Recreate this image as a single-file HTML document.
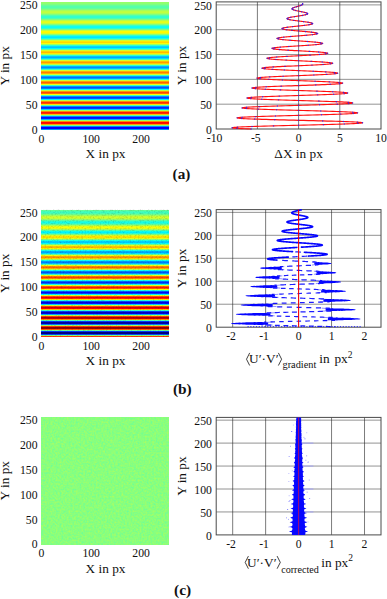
<!DOCTYPE html>
<html><head><meta charset="utf-8"><title>figure</title>
<style>
html,body{margin:0;padding:0;background:#fff;}
svg{display:block;font-family:"Liberation Serif",serif;fill:#111;}
svg text{fill:#111;}
</style></head><body>
<svg width="387" height="599" viewBox="0 0 387 599">
<defs>
<filter id="nzc" x="0" y="0" width="100%" height="100%" color-interpolation-filters="sRGB">
<feTurbulence type="fractalNoise" baseFrequency="0.55" numOctaves="2" seed="3" result="t"/>
<feColorMatrix in="t" type="matrix" values="0.32 0 0 0 0.38  0 0 0 0 1  -0.28 0 0 0 0.63  0 0 0 0 1"/>
</filter>
<filter id="nzb" x="0" y="0" width="100%" height="100%" color-interpolation-filters="sRGB">
<feTurbulence type="fractalNoise" baseFrequency="0.6" numOctaves="2" seed="11" result="t"/>
<feColorMatrix in="t" type="matrix" values="0 0 0 0 0  0 0 0 0 0  0 0 0 0 0  0.36 0 0 0 -0.165"/>
</filter>
</defs>
<rect width="387" height="599" fill="#fff"/>
<g shape-rendering="crispEdges">
<rect x="41.2" y="2.00" width="127.6" height="0.80" fill="rgb(149,255,106)"/>
<rect x="41.2" y="2.50" width="127.6" height="0.80" fill="rgb(149,255,106)"/>
<rect x="41.2" y="3.00" width="127.6" height="0.80" fill="rgb(147,255,108)"/>
<rect x="41.2" y="3.49" width="127.6" height="0.80" fill="rgb(142,255,113)"/>
<rect x="41.2" y="3.99" width="127.6" height="0.80" fill="rgb(135,255,120)"/>
<rect x="41.2" y="4.49" width="127.6" height="0.80" fill="rgb(125,255,130)"/>
<rect x="41.2" y="4.99" width="127.6" height="0.80" fill="rgb(114,255,141)"/>
<rect x="41.2" y="5.49" width="127.6" height="0.80" fill="rgb(103,255,152)"/>
<rect x="41.2" y="5.98" width="127.6" height="0.80" fill="rgb(93,255,162)"/>
<rect x="41.2" y="6.48" width="127.6" height="0.80" fill="rgb(86,255,169)"/>
<rect x="41.2" y="6.98" width="127.6" height="0.80" fill="rgb(83,255,172)"/>
<rect x="41.2" y="7.48" width="127.6" height="0.80" fill="rgb(84,255,171)"/>
<rect x="41.2" y="7.98" width="127.6" height="0.80" fill="rgb(90,255,165)"/>
<rect x="41.2" y="8.47" width="127.6" height="0.80" fill="rgb(100,255,155)"/>
<rect x="41.2" y="8.97" width="127.6" height="0.80" fill="rgb(114,255,141)"/>
<rect x="41.2" y="9.47" width="127.6" height="0.80" fill="rgb(130,255,125)"/>
<rect x="41.2" y="9.97" width="127.6" height="0.80" fill="rgb(148,255,107)"/>
<rect x="41.2" y="10.47" width="127.6" height="0.80" fill="rgb(165,255,90)"/>
<rect x="41.2" y="10.96" width="127.6" height="0.80" fill="rgb(179,255,76)"/>
<rect x="41.2" y="11.46" width="127.6" height="0.80" fill="rgb(188,255,67)"/>
<rect x="41.2" y="11.96" width="127.6" height="0.80" fill="rgb(193,255,62)"/>
<rect x="41.2" y="12.46" width="127.6" height="0.80" fill="rgb(191,255,64)"/>
<rect x="41.2" y="12.96" width="127.6" height="0.80" fill="rgb(182,255,73)"/>
<rect x="41.2" y="13.46" width="127.6" height="0.80" fill="rgb(168,255,87)"/>
<rect x="41.2" y="13.95" width="127.6" height="0.80" fill="rgb(148,255,107)"/>
<rect x="41.2" y="14.45" width="127.6" height="0.80" fill="rgb(126,255,129)"/>
<rect x="41.2" y="14.95" width="127.6" height="0.80" fill="rgb(102,255,153)"/>
<rect x="41.2" y="15.45" width="127.6" height="0.80" fill="rgb(80,255,175)"/>
<rect x="41.2" y="15.95" width="127.6" height="0.80" fill="rgb(62,255,193)"/>
<rect x="41.2" y="16.44" width="127.6" height="0.80" fill="rgb(49,255,206)"/>
<rect x="41.2" y="16.94" width="127.6" height="0.80" fill="rgb(43,255,212)"/>
<rect x="41.2" y="17.44" width="127.6" height="0.80" fill="rgb(46,255,209)"/>
<rect x="41.2" y="17.94" width="127.6" height="0.80" fill="rgb(57,255,198)"/>
<rect x="41.2" y="18.44" width="127.6" height="0.80" fill="rgb(75,255,180)"/>
<rect x="41.2" y="18.93" width="127.6" height="0.80" fill="rgb(99,255,156)"/>
<rect x="41.2" y="19.43" width="127.6" height="0.80" fill="rgb(127,255,128)"/>
<rect x="41.2" y="19.93" width="127.6" height="0.80" fill="rgb(156,255,99)"/>
<rect x="41.2" y="20.43" width="127.6" height="0.80" fill="rgb(184,255,71)"/>
<rect x="41.2" y="20.93" width="127.6" height="0.80" fill="rgb(207,255,48)"/>
<rect x="41.2" y="21.42" width="127.6" height="0.80" fill="rgb(223,255,32)"/>
<rect x="41.2" y="21.92" width="127.6" height="0.80" fill="rgb(230,255,25)"/>
<rect x="41.2" y="22.42" width="127.6" height="0.80" fill="rgb(227,255,28)"/>
<rect x="41.2" y="22.92" width="127.6" height="0.80" fill="rgb(215,255,40)"/>
<rect x="41.2" y="23.42" width="127.6" height="0.80" fill="rgb(193,255,62)"/>
<rect x="41.2" y="23.91" width="127.6" height="0.80" fill="rgb(164,255,91)"/>
<rect x="41.2" y="24.41" width="127.6" height="0.80" fill="rgb(131,255,124)"/>
<rect x="41.2" y="24.91" width="127.6" height="0.80" fill="rgb(96,255,159)"/>
<rect x="41.2" y="25.41" width="127.6" height="0.80" fill="rgb(64,255,191)"/>
<rect x="41.2" y="25.91" width="127.6" height="0.80" fill="rgb(36,255,219)"/>
<rect x="41.2" y="26.40" width="127.6" height="0.80" fill="rgb(17,255,238)"/>
<rect x="41.2" y="26.90" width="127.6" height="0.80" fill="rgb(8,255,247)"/>
<rect x="41.2" y="27.40" width="127.6" height="0.80" fill="rgb(10,255,245)"/>
<rect x="41.2" y="27.90" width="127.6" height="0.80" fill="rgb(24,255,231)"/>
<rect x="41.2" y="28.40" width="127.6" height="0.80" fill="rgb(49,255,206)"/>
<rect x="41.2" y="28.89" width="127.6" height="0.80" fill="rgb(82,255,173)"/>
<rect x="41.2" y="29.39" width="127.6" height="0.80" fill="rgb(120,255,135)"/>
<rect x="41.2" y="29.89" width="127.6" height="0.80" fill="rgb(160,255,95)"/>
<rect x="41.2" y="30.39" width="127.6" height="0.80" fill="rgb(198,255,57)"/>
<rect x="41.2" y="30.89" width="127.6" height="0.80" fill="rgb(229,255,26)"/>
<rect x="41.2" y="31.38" width="127.6" height="0.80" fill="rgb(252,255,3)"/>
<rect x="41.2" y="31.88" width="127.6" height="0.80" fill="rgb(255,247,0)"/>
<rect x="41.2" y="32.38" width="127.6" height="0.80" fill="rgb(255,249,0)"/>
<rect x="41.2" y="32.88" width="127.6" height="0.80" fill="rgb(247,255,8)"/>
<rect x="41.2" y="33.38" width="127.6" height="0.80" fill="rgb(220,255,35)"/>
<rect x="41.2" y="33.88" width="127.6" height="0.80" fill="rgb(183,255,72)"/>
<rect x="41.2" y="34.37" width="127.6" height="0.80" fill="rgb(140,255,115)"/>
<rect x="41.2" y="34.87" width="127.6" height="0.80" fill="rgb(95,255,160)"/>
<rect x="41.2" y="35.37" width="127.6" height="0.80" fill="rgb(52,255,203)"/>
<rect x="41.2" y="35.87" width="127.6" height="0.80" fill="rgb(16,255,239)"/>
<rect x="41.2" y="36.37" width="127.6" height="0.80" fill="rgb(0,244,255)"/>
<rect x="41.2" y="36.86" width="127.6" height="0.80" fill="rgb(0,231,255)"/>
<rect x="41.2" y="37.36" width="127.6" height="0.80" fill="rgb(0,232,255)"/>
<rect x="41.2" y="37.86" width="127.6" height="0.80" fill="rgb(0,248,255)"/>
<rect x="41.2" y="38.36" width="127.6" height="0.80" fill="rgb(22,255,233)"/>
<rect x="41.2" y="38.86" width="127.6" height="0.80" fill="rgb(62,255,193)"/>
<rect x="41.2" y="39.35" width="127.6" height="0.80" fill="rgb(109,255,146)"/>
<rect x="41.2" y="39.85" width="127.6" height="0.80" fill="rgb(159,255,96)"/>
<rect x="41.2" y="40.35" width="127.6" height="0.80" fill="rgb(207,255,48)"/>
<rect x="41.2" y="40.85" width="127.6" height="0.80" fill="rgb(248,255,7)"/>
<rect x="41.2" y="41.35" width="127.6" height="0.80" fill="rgb(255,232,0)"/>
<rect x="41.2" y="41.84" width="127.6" height="0.80" fill="rgb(255,216,0)"/>
<rect x="41.2" y="42.34" width="127.6" height="0.80" fill="rgb(255,216,0)"/>
<rect x="41.2" y="42.84" width="127.6" height="0.80" fill="rgb(255,232,0)"/>
<rect x="41.2" y="43.34" width="127.6" height="0.80" fill="rgb(247,255,8)"/>
<rect x="41.2" y="43.84" width="127.6" height="0.80" fill="rgb(204,255,51)"/>
<rect x="41.2" y="44.33" width="127.6" height="0.80" fill="rgb(153,255,102)"/>
<rect x="41.2" y="44.83" width="127.6" height="0.80" fill="rgb(98,255,157)"/>
<rect x="41.2" y="45.33" width="127.6" height="0.80" fill="rgb(45,255,210)"/>
<rect x="41.2" y="45.83" width="127.6" height="0.80" fill="rgb(0,254,255)"/>
<rect x="41.2" y="46.33" width="127.6" height="0.80" fill="rgb(0,220,255)"/>
<rect x="41.2" y="46.82" width="127.6" height="0.80" fill="rgb(0,201,255)"/>
<rect x="41.2" y="47.32" width="127.6" height="0.80" fill="rgb(0,200,255)"/>
<rect x="41.2" y="47.82" width="127.6" height="0.80" fill="rgb(0,216,255)"/>
<rect x="41.2" y="48.32" width="127.6" height="0.80" fill="rgb(0,248,255)"/>
<rect x="41.2" y="48.82" width="127.6" height="0.80" fill="rgb(40,255,215)"/>
<rect x="41.2" y="49.31" width="127.6" height="0.80" fill="rgb(95,255,160)"/>
<rect x="41.2" y="49.81" width="127.6" height="0.80" fill="rgb(154,255,101)"/>
<rect x="41.2" y="50.31" width="127.6" height="0.80" fill="rgb(212,255,43)"/>
<rect x="41.2" y="50.81" width="127.6" height="0.80" fill="rgb(255,247,0)"/>
<rect x="41.2" y="51.31" width="127.6" height="0.80" fill="rgb(255,209,0)"/>
<rect x="41.2" y="51.80" width="127.6" height="0.80" fill="rgb(255,187,0)"/>
<rect x="41.2" y="52.30" width="127.6" height="0.80" fill="rgb(255,184,0)"/>
<rect x="41.2" y="52.80" width="127.6" height="0.80" fill="rgb(255,200,0)"/>
<rect x="41.2" y="53.30" width="127.6" height="0.80" fill="rgb(255,234,0)"/>
<rect x="41.2" y="53.80" width="127.6" height="0.80" fill="rgb(227,255,28)"/>
<rect x="41.2" y="54.29" width="127.6" height="0.80" fill="rgb(168,255,87)"/>
<rect x="41.2" y="54.79" width="127.6" height="0.80" fill="rgb(104,255,151)"/>
<rect x="41.2" y="55.29" width="127.6" height="0.80" fill="rgb(42,255,213)"/>
<rect x="41.2" y="55.79" width="127.6" height="0.80" fill="rgb(0,241,255)"/>
<rect x="41.2" y="56.29" width="127.6" height="0.80" fill="rgb(0,199,255)"/>
<rect x="41.2" y="56.79" width="127.6" height="0.80" fill="rgb(0,174,255)"/>
<rect x="41.2" y="57.28" width="127.6" height="0.80" fill="rgb(0,169,255)"/>
<rect x="41.2" y="57.78" width="127.6" height="0.80" fill="rgb(0,184,255)"/>
<rect x="41.2" y="58.28" width="127.6" height="0.80" fill="rgb(0,219,255)"/>
<rect x="41.2" y="58.78" width="127.6" height="0.80" fill="rgb(15,255,240)"/>
<rect x="41.2" y="59.28" width="127.6" height="0.80" fill="rgb(78,255,177)"/>
<rect x="41.2" y="59.77" width="127.6" height="0.80" fill="rgb(146,255,109)"/>
<rect x="41.2" y="60.27" width="127.6" height="0.80" fill="rgb(214,255,41)"/>
<rect x="41.2" y="60.77" width="127.6" height="0.80" fill="rgb(255,236,0)"/>
<rect x="41.2" y="61.27" width="127.6" height="0.80" fill="rgb(255,190,0)"/>
<rect x="41.2" y="61.77" width="127.6" height="0.80" fill="rgb(255,161,0)"/>
<rect x="41.2" y="62.26" width="127.6" height="0.80" fill="rgb(255,154,0)"/>
<rect x="41.2" y="62.76" width="127.6" height="0.80" fill="rgb(255,168,0)"/>
<rect x="41.2" y="63.26" width="127.6" height="0.80" fill="rgb(255,204,0)"/>
<rect x="41.2" y="63.76" width="127.6" height="0.80" fill="rgb(253,255,2)"/>
<rect x="41.2" y="64.26" width="127.6" height="0.80" fill="rgb(187,255,68)"/>
<rect x="41.2" y="64.75" width="127.6" height="0.80" fill="rgb(114,255,141)"/>
<rect x="41.2" y="65.25" width="127.6" height="0.80" fill="rgb(42,255,213)"/>
<rect x="41.2" y="65.75" width="127.6" height="0.80" fill="rgb(0,232,255)"/>
<rect x="41.2" y="66.25" width="127.6" height="0.80" fill="rgb(0,181,255)"/>
<rect x="41.2" y="66.75" width="127.6" height="0.80" fill="rgb(0,149,255)"/>
<rect x="41.2" y="67.24" width="127.6" height="0.80" fill="rgb(0,139,255)"/>
<rect x="41.2" y="67.74" width="127.6" height="0.80" fill="rgb(0,153,255)"/>
<rect x="41.2" y="68.24" width="127.6" height="0.80" fill="rgb(0,189,255)"/>
<rect x="41.2" y="68.74" width="127.6" height="0.80" fill="rgb(0,244,255)"/>
<rect x="41.2" y="69.24" width="127.6" height="0.80" fill="rgb(58,255,197)"/>
<rect x="41.2" y="69.73" width="127.6" height="0.80" fill="rgb(135,255,120)"/>
<rect x="41.2" y="70.23" width="127.6" height="0.80" fill="rgb(212,255,43)"/>
<rect x="41.2" y="70.73" width="127.6" height="0.80" fill="rgb(255,229,0)"/>
<rect x="41.2" y="71.23" width="127.6" height="0.80" fill="rgb(255,173,0)"/>
<rect x="41.2" y="71.73" width="127.6" height="0.80" fill="rgb(255,137,0)"/>
<rect x="41.2" y="72.22" width="127.6" height="0.80" fill="rgb(255,125,0)"/>
<rect x="41.2" y="72.72" width="127.6" height="0.80" fill="rgb(255,137,0)"/>
<rect x="41.2" y="73.22" width="127.6" height="0.80" fill="rgb(255,173,0)"/>
<rect x="41.2" y="73.72" width="127.6" height="0.80" fill="rgb(255,230,0)"/>
<rect x="41.2" y="74.22" width="127.6" height="0.80" fill="rgb(208,255,47)"/>
<rect x="41.2" y="74.71" width="127.6" height="0.80" fill="rgb(127,255,128)"/>
<rect x="41.2" y="75.21" width="127.6" height="0.80" fill="rgb(46,255,209)"/>
<rect x="41.2" y="75.71" width="127.6" height="0.80" fill="rgb(0,226,255)"/>
<rect x="41.2" y="76.21" width="127.6" height="0.80" fill="rgb(0,166,255)"/>
<rect x="41.2" y="76.71" width="127.6" height="0.80" fill="rgb(0,126,255)"/>
<rect x="41.2" y="77.21" width="127.6" height="0.80" fill="rgb(0,111,255)"/>
<rect x="41.2" y="77.70" width="127.6" height="0.80" fill="rgb(0,122,255)"/>
<rect x="41.2" y="78.20" width="127.6" height="0.80" fill="rgb(0,158,255)"/>
<rect x="41.2" y="78.70" width="127.6" height="0.80" fill="rgb(0,216,255)"/>
<rect x="41.2" y="79.20" width="127.6" height="0.80" fill="rgb(36,255,219)"/>
<rect x="41.2" y="79.70" width="127.6" height="0.80" fill="rgb(120,255,135)"/>
<rect x="41.2" y="80.19" width="127.6" height="0.80" fill="rgb(206,255,49)"/>
<rect x="41.2" y="80.69" width="127.6" height="0.80" fill="rgb(255,225,0)"/>
<rect x="41.2" y="81.19" width="127.6" height="0.80" fill="rgb(255,160,0)"/>
<rect x="41.2" y="81.69" width="127.6" height="0.80" fill="rgb(255,116,0)"/>
<rect x="41.2" y="82.19" width="127.6" height="0.80" fill="rgb(255,97,0)"/>
<rect x="41.2" y="82.68" width="127.6" height="0.80" fill="rgb(255,106,0)"/>
<rect x="41.2" y="83.18" width="127.6" height="0.80" fill="rgb(255,142,0)"/>
<rect x="41.2" y="83.68" width="127.6" height="0.80" fill="rgb(255,201,0)"/>
<rect x="41.2" y="84.18" width="127.6" height="0.80" fill="rgb(232,255,23)"/>
<rect x="41.2" y="84.68" width="127.6" height="0.80" fill="rgb(144,255,111)"/>
<rect x="41.2" y="85.17" width="127.6" height="0.80" fill="rgb(53,255,202)"/>
<rect x="41.2" y="85.67" width="127.6" height="0.80" fill="rgb(0,224,255)"/>
<rect x="41.2" y="86.17" width="127.6" height="0.80" fill="rgb(0,154,255)"/>
<rect x="41.2" y="86.67" width="127.6" height="0.80" fill="rgb(0,106,255)"/>
<rect x="41.2" y="87.17" width="127.6" height="0.80" fill="rgb(0,84,255)"/>
<rect x="41.2" y="87.66" width="127.6" height="0.80" fill="rgb(0,91,255)"/>
<rect x="41.2" y="88.16" width="127.6" height="0.80" fill="rgb(0,126,255)"/>
<rect x="41.2" y="88.66" width="127.6" height="0.80" fill="rgb(0,186,255)"/>
<rect x="41.2" y="89.16" width="127.6" height="0.80" fill="rgb(11,255,244)"/>
<rect x="41.2" y="89.66" width="127.6" height="0.80" fill="rgb(102,255,153)"/>
<rect x="41.2" y="90.15" width="127.6" height="0.80" fill="rgb(197,255,58)"/>
<rect x="41.2" y="90.65" width="127.6" height="0.80" fill="rgb(255,224,0)"/>
<rect x="41.2" y="91.15" width="127.6" height="0.80" fill="rgb(255,150,0)"/>
<rect x="41.2" y="91.65" width="127.6" height="0.80" fill="rgb(255,97,0)"/>
<rect x="41.2" y="92.15" width="127.6" height="0.80" fill="rgb(255,72,0)"/>
<rect x="41.2" y="92.64" width="127.6" height="0.80" fill="rgb(255,76,0)"/>
<rect x="41.2" y="93.14" width="127.6" height="0.80" fill="rgb(255,110,0)"/>
<rect x="41.2" y="93.64" width="127.6" height="0.80" fill="rgb(255,171,0)"/>
<rect x="41.2" y="94.14" width="127.6" height="0.80" fill="rgb(255,252,0)"/>
<rect x="41.2" y="94.64" width="127.6" height="0.80" fill="rgb(163,255,92)"/>
<rect x="41.2" y="95.13" width="127.6" height="0.80" fill="rgb(64,255,191)"/>
<rect x="41.2" y="95.63" width="127.6" height="0.80" fill="rgb(0,225,255)"/>
<rect x="41.2" y="96.13" width="127.6" height="0.80" fill="rgb(0,146,255)"/>
<rect x="41.2" y="96.63" width="127.6" height="0.80" fill="rgb(0,89,255)"/>
<rect x="41.2" y="97.13" width="127.6" height="0.80" fill="rgb(0,60,255)"/>
<rect x="41.2" y="97.62" width="127.6" height="0.80" fill="rgb(0,61,255)"/>
<rect x="41.2" y="98.12" width="127.6" height="0.80" fill="rgb(0,94,255)"/>
<rect x="41.2" y="98.62" width="127.6" height="0.80" fill="rgb(0,155,255)"/>
<rect x="41.2" y="99.12" width="127.6" height="0.80" fill="rgb(0,239,255)"/>
<rect x="41.2" y="99.62" width="127.6" height="0.80" fill="rgb(82,255,173)"/>
<rect x="41.2" y="100.12" width="127.6" height="0.80" fill="rgb(185,255,70)"/>
<rect x="41.2" y="100.61" width="127.6" height="0.80" fill="rgb(255,227,0)"/>
<rect x="41.2" y="101.11" width="127.6" height="0.80" fill="rgb(255,142,0)"/>
<rect x="41.2" y="101.61" width="127.6" height="0.80" fill="rgb(255,81,0)"/>
<rect x="41.2" y="102.11" width="127.6" height="0.80" fill="rgb(255,48,0)"/>
<rect x="41.2" y="102.61" width="127.6" height="0.80" fill="rgb(255,47,0)"/>
<rect x="41.2" y="103.10" width="127.6" height="0.80" fill="rgb(255,78,0)"/>
<rect x="41.2" y="103.60" width="127.6" height="0.80" fill="rgb(255,139,0)"/>
<rect x="41.2" y="104.10" width="127.6" height="0.80" fill="rgb(255,224,0)"/>
<rect x="41.2" y="104.60" width="127.6" height="0.80" fill="rgb(185,255,70)"/>
<rect x="41.2" y="105.10" width="127.6" height="0.80" fill="rgb(77,255,178)"/>
<rect x="41.2" y="105.59" width="127.6" height="0.80" fill="rgb(0,229,255)"/>
<rect x="41.2" y="106.09" width="127.6" height="0.80" fill="rgb(0,140,255)"/>
<rect x="41.2" y="106.59" width="127.6" height="0.80" fill="rgb(0,74,255)"/>
<rect x="41.2" y="107.09" width="127.6" height="0.80" fill="rgb(0,37,255)"/>
<rect x="41.2" y="107.59" width="127.6" height="0.80" fill="rgb(0,33,255)"/>
<rect x="41.2" y="108.08" width="127.6" height="0.80" fill="rgb(0,62,255)"/>
<rect x="41.2" y="108.58" width="127.6" height="0.80" fill="rgb(0,123,255)"/>
<rect x="41.2" y="109.08" width="127.6" height="0.80" fill="rgb(0,210,255)"/>
<rect x="41.2" y="109.58" width="127.6" height="0.80" fill="rgb(58,255,197)"/>
<rect x="41.2" y="110.08" width="127.6" height="0.80" fill="rgb(170,255,85)"/>
<rect x="41.2" y="110.57" width="127.6" height="0.80" fill="rgb(255,233,0)"/>
<rect x="41.2" y="111.07" width="127.6" height="0.80" fill="rgb(255,138,0)"/>
<rect x="41.2" y="111.57" width="127.6" height="0.80" fill="rgb(255,67,0)"/>
<rect x="41.2" y="112.07" width="127.6" height="0.80" fill="rgb(255,26,0)"/>
<rect x="41.2" y="112.57" width="127.6" height="0.80" fill="rgb(255,19,0)"/>
<rect x="41.2" y="113.06" width="127.6" height="0.80" fill="rgb(255,47,0)"/>
<rect x="41.2" y="113.56" width="127.6" height="0.80" fill="rgb(255,107,0)"/>
<rect x="41.2" y="114.06" width="127.6" height="0.80" fill="rgb(255,195,0)"/>
<rect x="41.2" y="114.56" width="127.6" height="0.80" fill="rgb(209,255,46)"/>
<rect x="41.2" y="115.06" width="127.6" height="0.80" fill="rgb(94,255,161)"/>
<rect x="41.2" y="115.55" width="127.6" height="0.80" fill="rgb(0,237,255)"/>
<rect x="41.2" y="116.05" width="127.6" height="0.80" fill="rgb(0,138,255)"/>
<rect x="41.2" y="116.55" width="127.6" height="0.80" fill="rgb(0,61,255)"/>
<rect x="41.2" y="117.05" width="127.6" height="0.80" fill="rgb(0,16,255)"/>
<rect x="41.2" y="117.55" width="127.6" height="0.80" fill="rgb(0,5,255)"/>
<rect x="41.2" y="118.04" width="127.6" height="0.80" fill="rgb(0,31,255)"/>
<rect x="41.2" y="118.54" width="127.6" height="0.80" fill="rgb(0,91,255)"/>
<rect x="41.2" y="119.04" width="127.6" height="0.80" fill="rgb(0,179,255)"/>
<rect x="41.2" y="119.54" width="127.6" height="0.80" fill="rgb(33,255,222)"/>
<rect x="41.2" y="120.04" width="127.6" height="0.80" fill="rgb(151,255,104)"/>
<rect x="41.2" y="120.54" width="127.6" height="0.80" fill="rgb(255,242,0)"/>
<rect x="41.2" y="121.03" width="127.6" height="0.80" fill="rgb(255,138,0)"/>
<rect x="41.2" y="121.53" width="127.6" height="0.80" fill="rgb(255,56,0)"/>
<rect x="41.2" y="122.03" width="127.6" height="0.80" fill="rgb(255,6,0)"/>
<rect x="41.2" y="122.53" width="127.6" height="0.80" fill="rgb(247,0,0)"/>
<rect x="41.2" y="123.03" width="127.6" height="0.80" fill="rgb(255,15,0)"/>
<rect x="41.2" y="123.52" width="127.6" height="0.80" fill="rgb(255,74,0)"/>
<rect x="41.2" y="124.02" width="127.6" height="0.80" fill="rgb(255,163,0)"/>
<rect x="41.2" y="124.52" width="127.6" height="0.80" fill="rgb(236,255,19)"/>
<rect x="41.2" y="125.02" width="127.6" height="0.80" fill="rgb(114,255,141)"/>
<rect x="41.2" y="125.52" width="127.6" height="0.80" fill="rgb(0,248,255)"/>
<rect x="41.2" y="126.01" width="127.6" height="0.80" fill="rgb(0,138,255)"/>
<rect x="41.2" y="126.51" width="127.6" height="0.80" fill="rgb(0,52,255)"/>
<rect x="41.2" y="127.01" width="127.6" height="0.80" fill="rgb(0,0,252)"/>
<rect x="41.2" y="127.51" width="127.6" height="0.80" fill="rgb(0,0,234)"/>
<rect x="41.2" y="128.01" width="127.6" height="0.80" fill="rgb(0,0,255)"/>
<rect x="41.2" y="128.50" width="127.6" height="0.80" fill="rgb(0,57,255)"/>
<rect x="41.2" y="129.00" width="127.6" height="0.80" fill="rgb(0,147,255)"/>
</g>
<g shape-rendering="crispEdges">
<rect x="41.2" y="209.60" width="127.6" height="0.80" fill="rgb(119,255,136)"/>
<rect x="41.2" y="210.10" width="127.6" height="0.80" fill="rgb(101,255,154)"/>
<rect x="41.2" y="210.60" width="127.6" height="0.80" fill="rgb(85,255,170)"/>
<rect x="41.2" y="211.09" width="127.6" height="0.80" fill="rgb(72,255,183)"/>
<rect x="41.2" y="211.59" width="127.6" height="0.80" fill="rgb(64,255,191)"/>
<rect x="41.2" y="212.09" width="127.6" height="0.80" fill="rgb(61,255,194)"/>
<rect x="41.2" y="212.59" width="127.6" height="0.80" fill="rgb(66,255,189)"/>
<rect x="41.2" y="213.08" width="127.6" height="0.80" fill="rgb(76,255,179)"/>
<rect x="41.2" y="213.58" width="127.6" height="0.80" fill="rgb(92,255,163)"/>
<rect x="41.2" y="214.08" width="127.6" height="0.80" fill="rgb(113,255,142)"/>
<rect x="41.2" y="214.58" width="127.6" height="0.80" fill="rgb(136,255,119)"/>
<rect x="41.2" y="215.07" width="127.6" height="0.80" fill="rgb(160,255,95)"/>
<rect x="41.2" y="215.57" width="127.6" height="0.80" fill="rgb(182,255,73)"/>
<rect x="41.2" y="216.07" width="127.6" height="0.80" fill="rgb(199,255,56)"/>
<rect x="41.2" y="216.57" width="127.6" height="0.80" fill="rgb(210,255,45)"/>
<rect x="41.2" y="217.06" width="127.6" height="0.80" fill="rgb(213,255,42)"/>
<rect x="41.2" y="217.56" width="127.6" height="0.80" fill="rgb(208,255,47)"/>
<rect x="41.2" y="218.06" width="127.6" height="0.80" fill="rgb(195,255,60)"/>
<rect x="41.2" y="218.56" width="127.6" height="0.80" fill="rgb(174,255,81)"/>
<rect x="41.2" y="219.06" width="127.6" height="0.80" fill="rgb(148,255,107)"/>
<rect x="41.2" y="219.55" width="127.6" height="0.80" fill="rgb(119,255,136)"/>
<rect x="41.2" y="220.05" width="127.6" height="0.80" fill="rgb(90,255,165)"/>
<rect x="41.2" y="220.55" width="127.6" height="0.80" fill="rgb(63,255,192)"/>
<rect x="41.2" y="221.05" width="127.6" height="0.80" fill="rgb(41,255,214)"/>
<rect x="41.2" y="221.54" width="127.6" height="0.80" fill="rgb(27,255,228)"/>
<rect x="41.2" y="222.04" width="127.6" height="0.80" fill="rgb(22,255,233)"/>
<rect x="41.2" y="222.54" width="127.6" height="0.80" fill="rgb(28,255,227)"/>
<rect x="41.2" y="223.04" width="127.6" height="0.80" fill="rgb(44,255,211)"/>
<rect x="41.2" y="223.53" width="127.6" height="0.80" fill="rgb(68,255,187)"/>
<rect x="41.2" y="224.03" width="127.6" height="0.80" fill="rgb(99,255,156)"/>
<rect x="41.2" y="224.53" width="127.6" height="0.80" fill="rgb(134,255,121)"/>
<rect x="41.2" y="225.03" width="127.6" height="0.80" fill="rgb(170,255,85)"/>
<rect x="41.2" y="225.53" width="127.6" height="0.80" fill="rgb(202,255,53)"/>
<rect x="41.2" y="226.02" width="127.6" height="0.80" fill="rgb(229,255,26)"/>
<rect x="41.2" y="226.52" width="127.6" height="0.80" fill="rgb(246,255,9)"/>
<rect x="41.2" y="227.02" width="127.6" height="0.80" fill="rgb(252,255,3)"/>
<rect x="41.2" y="227.52" width="127.6" height="0.80" fill="rgb(246,255,9)"/>
<rect x="41.2" y="228.01" width="127.6" height="0.80" fill="rgb(229,255,26)"/>
<rect x="41.2" y="228.51" width="127.6" height="0.80" fill="rgb(201,255,54)"/>
<rect x="41.2" y="229.01" width="127.6" height="0.80" fill="rgb(165,255,90)"/>
<rect x="41.2" y="229.51" width="127.6" height="0.80" fill="rgb(124,255,131)"/>
<rect x="41.2" y="230.00" width="127.6" height="0.80" fill="rgb(82,255,173)"/>
<rect x="41.2" y="230.50" width="127.6" height="0.80" fill="rgb(44,255,211)"/>
<rect x="41.2" y="231.00" width="127.6" height="0.80" fill="rgb(13,255,242)"/>
<rect x="41.2" y="231.50" width="127.6" height="0.80" fill="rgb(0,247,255)"/>
<rect x="41.2" y="231.99" width="127.6" height="0.80" fill="rgb(0,239,255)"/>
<rect x="41.2" y="232.49" width="127.6" height="0.80" fill="rgb(0,244,255)"/>
<rect x="41.2" y="232.99" width="127.6" height="0.80" fill="rgb(8,255,247)"/>
<rect x="41.2" y="233.49" width="127.6" height="0.80" fill="rgb(40,255,215)"/>
<rect x="41.2" y="233.99" width="127.6" height="0.80" fill="rgb(81,255,174)"/>
<rect x="41.2" y="234.48" width="127.6" height="0.80" fill="rgb(127,255,128)"/>
<rect x="41.2" y="234.98" width="127.6" height="0.80" fill="rgb(175,255,80)"/>
<rect x="41.2" y="235.48" width="127.6" height="0.80" fill="rgb(219,255,36)"/>
<rect x="41.2" y="235.98" width="127.6" height="0.80" fill="rgb(255,255,0)"/>
<rect x="41.2" y="236.47" width="127.6" height="0.80" fill="rgb(255,230,0)"/>
<rect x="41.2" y="236.97" width="127.6" height="0.80" fill="rgb(255,219,0)"/>
<rect x="41.2" y="237.47" width="127.6" height="0.80" fill="rgb(255,224,0)"/>
<rect x="41.2" y="237.97" width="127.6" height="0.80" fill="rgb(255,245,0)"/>
<rect x="41.2" y="238.46" width="127.6" height="0.80" fill="rgb(231,255,24)"/>
<rect x="41.2" y="238.96" width="127.6" height="0.80" fill="rgb(185,255,70)"/>
<rect x="41.2" y="239.46" width="127.6" height="0.80" fill="rgb(133,255,122)"/>
<rect x="41.2" y="239.96" width="127.6" height="0.80" fill="rgb(80,255,175)"/>
<rect x="41.2" y="240.45" width="127.6" height="0.80" fill="rgb(29,255,226)"/>
<rect x="41.2" y="240.95" width="127.6" height="0.80" fill="rgb(0,243,255)"/>
<rect x="41.2" y="241.45" width="127.6" height="0.80" fill="rgb(0,213,255)"/>
<rect x="41.2" y="241.95" width="127.6" height="0.80" fill="rgb(0,200,255)"/>
<rect x="41.2" y="242.45" width="127.6" height="0.80" fill="rgb(0,204,255)"/>
<rect x="41.2" y="242.94" width="127.6" height="0.80" fill="rgb(0,226,255)"/>
<rect x="41.2" y="243.44" width="127.6" height="0.80" fill="rgb(8,255,247)"/>
<rect x="41.2" y="243.94" width="127.6" height="0.80" fill="rgb(58,255,197)"/>
<rect x="41.2" y="244.44" width="127.6" height="0.80" fill="rgb(115,255,140)"/>
<rect x="41.2" y="244.93" width="127.6" height="0.80" fill="rgb(175,255,80)"/>
<rect x="41.2" y="245.43" width="127.6" height="0.80" fill="rgb(231,255,24)"/>
<rect x="41.2" y="245.93" width="127.6" height="0.80" fill="rgb(255,231,0)"/>
<rect x="41.2" y="246.43" width="127.6" height="0.80" fill="rgb(255,198,0)"/>
<rect x="41.2" y="246.92" width="127.6" height="0.80" fill="rgb(255,181,0)"/>
<rect x="41.2" y="247.42" width="127.6" height="0.80" fill="rgb(255,184,0)"/>
<rect x="41.2" y="247.92" width="127.6" height="0.80" fill="rgb(255,206,0)"/>
<rect x="41.2" y="248.42" width="127.6" height="0.80" fill="rgb(255,246,0)"/>
<rect x="41.2" y="248.91" width="127.6" height="0.80" fill="rgb(210,255,45)"/>
<rect x="41.2" y="249.41" width="127.6" height="0.80" fill="rgb(147,255,108)"/>
<rect x="41.2" y="249.91" width="127.6" height="0.80" fill="rgb(82,255,173)"/>
<rect x="41.2" y="250.41" width="127.6" height="0.80" fill="rgb(19,255,236)"/>
<rect x="41.2" y="250.91" width="127.6" height="0.80" fill="rgb(0,221,255)"/>
<rect x="41.2" y="251.40" width="127.6" height="0.80" fill="rgb(0,182,255)"/>
<rect x="41.2" y="251.90" width="127.6" height="0.80" fill="rgb(0,163,255)"/>
<rect x="41.2" y="252.40" width="127.6" height="0.80" fill="rgb(0,164,255)"/>
<rect x="41.2" y="252.90" width="127.6" height="0.80" fill="rgb(0,186,255)"/>
<rect x="41.2" y="253.39" width="127.6" height="0.80" fill="rgb(0,228,255)"/>
<rect x="41.2" y="253.89" width="127.6" height="0.80" fill="rgb(31,255,224)"/>
<rect x="41.2" y="254.39" width="127.6" height="0.80" fill="rgb(99,255,156)"/>
<rect x="41.2" y="254.89" width="127.6" height="0.80" fill="rgb(171,255,84)"/>
<rect x="41.2" y="255.38" width="127.6" height="0.80" fill="rgb(240,255,15)"/>
<rect x="41.2" y="255.88" width="127.6" height="0.80" fill="rgb(255,211,0)"/>
<rect x="41.2" y="256.38" width="127.6" height="0.80" fill="rgb(255,168,0)"/>
<rect x="41.2" y="256.88" width="127.6" height="0.80" fill="rgb(255,144,0)"/>
<rect x="41.2" y="257.38" width="127.6" height="0.80" fill="rgb(255,144,0)"/>
<rect x="41.2" y="257.87" width="127.6" height="0.80" fill="rgb(255,166,0)"/>
<rect x="41.2" y="258.37" width="127.6" height="0.80" fill="rgb(255,210,0)"/>
<rect x="41.2" y="258.87" width="127.6" height="0.80" fill="rgb(239,255,16)"/>
<rect x="41.2" y="259.37" width="127.6" height="0.80" fill="rgb(166,255,89)"/>
<rect x="41.2" y="259.86" width="127.6" height="0.80" fill="rgb(88,255,167)"/>
<rect x="41.2" y="260.36" width="127.6" height="0.80" fill="rgb(13,255,242)"/>
<rect x="41.2" y="260.86" width="127.6" height="0.80" fill="rgb(0,203,255)"/>
<rect x="41.2" y="261.36" width="127.6" height="0.80" fill="rgb(0,154,255)"/>
<rect x="41.2" y="261.85" width="127.6" height="0.80" fill="rgb(0,126,255)"/>
<rect x="41.2" y="262.35" width="127.6" height="0.80" fill="rgb(0,123,255)"/>
<rect x="41.2" y="262.85" width="127.6" height="0.80" fill="rgb(0,145,255)"/>
<rect x="41.2" y="263.35" width="127.6" height="0.80" fill="rgb(0,190,255)"/>
<rect x="41.2" y="263.84" width="127.6" height="0.80" fill="rgb(0,255,255)"/>
<rect x="41.2" y="264.34" width="127.6" height="0.80" fill="rgb(78,255,177)"/>
<rect x="41.2" y="264.84" width="127.6" height="0.80" fill="rgb(162,255,93)"/>
<rect x="41.2" y="265.34" width="127.6" height="0.80" fill="rgb(243,255,12)"/>
<rect x="41.2" y="265.84" width="127.6" height="0.80" fill="rgb(255,195,0)"/>
<rect x="41.2" y="266.33" width="127.6" height="0.80" fill="rgb(255,141,0)"/>
<rect x="41.2" y="266.83" width="127.6" height="0.80" fill="rgb(255,109,0)"/>
<rect x="41.2" y="267.33" width="127.6" height="0.80" fill="rgb(255,103,0)"/>
<rect x="41.2" y="267.83" width="127.6" height="0.80" fill="rgb(255,124,0)"/>
<rect x="41.2" y="268.32" width="127.6" height="0.80" fill="rgb(255,171,0)"/>
<rect x="41.2" y="268.82" width="127.6" height="0.80" fill="rgb(255,238,0)"/>
<rect x="41.2" y="269.32" width="127.6" height="0.80" fill="rgb(189,255,66)"/>
<rect x="41.2" y="269.82" width="127.6" height="0.80" fill="rgb(100,255,155)"/>
<rect x="41.2" y="270.31" width="127.6" height="0.80" fill="rgb(12,255,243)"/>
<rect x="41.2" y="270.81" width="127.6" height="0.80" fill="rgb(0,189,255)"/>
<rect x="41.2" y="271.31" width="127.6" height="0.80" fill="rgb(0,128,255)"/>
<rect x="41.2" y="271.81" width="127.6" height="0.80" fill="rgb(0,92,255)"/>
<rect x="41.2" y="272.30" width="127.6" height="0.80" fill="rgb(0,83,255)"/>
<rect x="41.2" y="272.80" width="127.6" height="0.80" fill="rgb(0,103,255)"/>
<rect x="41.2" y="273.30" width="127.6" height="0.80" fill="rgb(0,150,255)"/>
<rect x="41.2" y="273.80" width="127.6" height="0.80" fill="rgb(0,221,255)"/>
<rect x="41.2" y="274.30" width="127.6" height="0.80" fill="rgb(52,255,203)"/>
<rect x="41.2" y="274.79" width="127.6" height="0.80" fill="rgb(148,255,107)"/>
<rect x="41.2" y="275.29" width="127.6" height="0.80" fill="rgb(242,255,13)"/>
<rect x="41.2" y="275.79" width="127.6" height="0.80" fill="rgb(255,183,0)"/>
<rect x="41.2" y="276.29" width="127.6" height="0.80" fill="rgb(255,117,0)"/>
<rect x="41.2" y="276.78" width="127.6" height="0.80" fill="rgb(255,75,0)"/>
<rect x="41.2" y="277.28" width="127.6" height="0.80" fill="rgb(255,63,0)"/>
<rect x="41.2" y="277.78" width="127.6" height="0.80" fill="rgb(255,81,0)"/>
<rect x="41.2" y="278.28" width="127.6" height="0.80" fill="rgb(255,129,0)"/>
<rect x="41.2" y="278.77" width="127.6" height="0.80" fill="rgb(255,202,0)"/>
<rect x="41.2" y="279.27" width="127.6" height="0.80" fill="rgb(217,255,38)"/>
<rect x="41.2" y="279.77" width="127.6" height="0.80" fill="rgb(116,255,139)"/>
<rect x="41.2" y="280.27" width="127.6" height="0.80" fill="rgb(15,255,240)"/>
<rect x="41.2" y="280.76" width="127.6" height="0.80" fill="rgb(0,179,255)"/>
<rect x="41.2" y="281.26" width="127.6" height="0.80" fill="rgb(0,106,255)"/>
<rect x="41.2" y="281.76" width="127.6" height="0.80" fill="rgb(0,59,255)"/>
<rect x="41.2" y="282.26" width="127.6" height="0.80" fill="rgb(0,43,255)"/>
<rect x="41.2" y="282.76" width="127.6" height="0.80" fill="rgb(0,60,255)"/>
<rect x="41.2" y="283.25" width="127.6" height="0.80" fill="rgb(0,108,255)"/>
<rect x="41.2" y="283.75" width="127.6" height="0.80" fill="rgb(0,183,255)"/>
<rect x="41.2" y="284.25" width="127.6" height="0.80" fill="rgb(23,255,232)"/>
<rect x="41.2" y="284.75" width="127.6" height="0.80" fill="rgb(129,255,126)"/>
<rect x="41.2" y="285.24" width="127.6" height="0.80" fill="rgb(236,255,19)"/>
<rect x="41.2" y="285.74" width="127.6" height="0.80" fill="rgb(255,176,0)"/>
<rect x="41.2" y="286.24" width="127.6" height="0.80" fill="rgb(255,97,0)"/>
<rect x="41.2" y="286.74" width="127.6" height="0.80" fill="rgb(255,44,0)"/>
<rect x="41.2" y="287.23" width="127.6" height="0.80" fill="rgb(255,24,0)"/>
<rect x="41.2" y="287.73" width="127.6" height="0.80" fill="rgb(255,38,0)"/>
<rect x="41.2" y="288.23" width="127.6" height="0.80" fill="rgb(255,86,0)"/>
<rect x="41.2" y="288.73" width="127.6" height="0.80" fill="rgb(255,163,0)"/>
<rect x="41.2" y="289.23" width="127.6" height="0.80" fill="rgb(249,255,6)"/>
<rect x="41.2" y="289.72" width="127.6" height="0.80" fill="rgb(137,255,118)"/>
<rect x="41.2" y="290.22" width="127.6" height="0.80" fill="rgb(23,255,232)"/>
<rect x="41.2" y="290.72" width="127.6" height="0.80" fill="rgb(0,173,255)"/>
<rect x="41.2" y="291.22" width="127.6" height="0.80" fill="rgb(0,88,255)"/>
<rect x="41.2" y="291.71" width="127.6" height="0.80" fill="rgb(0,30,255)"/>
<rect x="41.2" y="292.21" width="127.6" height="0.80" fill="rgb(0,5,255)"/>
<rect x="41.2" y="292.71" width="127.6" height="0.80" fill="rgb(0,17,255)"/>
<rect x="41.2" y="293.21" width="127.6" height="0.80" fill="rgb(0,64,255)"/>
<rect x="41.2" y="293.70" width="127.6" height="0.80" fill="rgb(0,142,255)"/>
<rect x="41.2" y="294.20" width="127.6" height="0.80" fill="rgb(0,244,255)"/>
<rect x="41.2" y="294.70" width="127.6" height="0.80" fill="rgb(106,255,149)"/>
<rect x="41.2" y="295.20" width="127.6" height="0.80" fill="rgb(226,255,29)"/>
<rect x="41.2" y="295.69" width="127.6" height="0.80" fill="rgb(255,173,0)"/>
<rect x="41.2" y="296.19" width="127.6" height="0.80" fill="rgb(255,80,0)"/>
<rect x="41.2" y="296.69" width="127.6" height="0.80" fill="rgb(255,16,0)"/>
<rect x="41.2" y="297.19" width="127.6" height="0.80" fill="rgb(241,0,0)"/>
<rect x="41.2" y="297.69" width="127.6" height="0.80" fill="rgb(250,0,0)"/>
<rect x="41.2" y="298.18" width="127.6" height="0.80" fill="rgb(255,41,0)"/>
<rect x="41.2" y="298.68" width="127.6" height="0.80" fill="rgb(255,120,0)"/>
<rect x="41.2" y="299.18" width="127.6" height="0.80" fill="rgb(255,226,0)"/>
<rect x="41.2" y="299.68" width="127.6" height="0.80" fill="rgb(163,255,92)"/>
<rect x="41.2" y="300.17" width="127.6" height="0.80" fill="rgb(36,255,219)"/>
<rect x="41.2" y="300.67" width="127.6" height="0.80" fill="rgb(0,173,255)"/>
<rect x="41.2" y="301.17" width="127.6" height="0.80" fill="rgb(0,73,255)"/>
<rect x="41.2" y="301.67" width="127.6" height="0.80" fill="rgb(0,3,255)"/>
<rect x="41.2" y="302.16" width="127.6" height="0.80" fill="rgb(0,0,223)"/>
<rect x="41.2" y="302.66" width="127.6" height="0.80" fill="rgb(0,0,228)"/>
<rect x="41.2" y="303.16" width="127.6" height="0.80" fill="rgb(0,18,255)"/>
<rect x="41.2" y="303.66" width="127.6" height="0.80" fill="rgb(0,98,255)"/>
<rect x="41.2" y="304.15" width="127.6" height="0.80" fill="rgb(0,207,255)"/>
<rect x="41.2" y="304.65" width="127.6" height="0.80" fill="rgb(78,255,177)"/>
<rect x="41.2" y="305.15" width="127.6" height="0.80" fill="rgb(210,255,45)"/>
<rect x="41.2" y="305.65" width="127.6" height="0.80" fill="rgb(255,174,0)"/>
<rect x="41.2" y="306.15" width="127.6" height="0.80" fill="rgb(255,68,0)"/>
<rect x="41.2" y="306.64" width="127.6" height="0.80" fill="rgb(245,0,0)"/>
<rect x="41.2" y="307.14" width="127.6" height="0.80" fill="rgb(205,0,0)"/>
<rect x="41.2" y="307.64" width="127.6" height="0.80" fill="rgb(207,0,0)"/>
<rect x="41.2" y="308.14" width="127.6" height="0.80" fill="rgb(250,0,0)"/>
<rect x="41.2" y="308.63" width="127.6" height="0.80" fill="rgb(255,75,0)"/>
<rect x="41.2" y="309.13" width="127.6" height="0.80" fill="rgb(255,186,0)"/>
<rect x="41.2" y="309.63" width="127.6" height="0.80" fill="rgb(193,255,62)"/>
<rect x="41.2" y="310.13" width="127.6" height="0.80" fill="rgb(54,255,201)"/>
<rect x="41.2" y="310.62" width="127.6" height="0.80" fill="rgb(0,177,255)"/>
<rect x="41.2" y="311.12" width="127.6" height="0.80" fill="rgb(0,63,255)"/>
<rect x="41.2" y="311.62" width="127.6" height="0.80" fill="rgb(0,0,234)"/>
<rect x="41.2" y="312.12" width="127.6" height="0.80" fill="rgb(0,0,188)"/>
<rect x="41.2" y="312.61" width="127.6" height="0.80" fill="rgb(0,0,186)"/>
<rect x="41.2" y="313.11" width="127.6" height="0.80" fill="rgb(0,0,226)"/>
<rect x="41.2" y="313.61" width="127.6" height="0.80" fill="rgb(0,52,255)"/>
<rect x="41.2" y="314.11" width="127.6" height="0.80" fill="rgb(0,165,255)"/>
<rect x="41.2" y="314.61" width="127.6" height="0.80" fill="rgb(46,255,209)"/>
<rect x="41.2" y="315.10" width="127.6" height="0.80" fill="rgb(190,255,65)"/>
<rect x="41.2" y="315.60" width="127.6" height="0.80" fill="rgb(255,181,0)"/>
<rect x="41.2" y="316.10" width="127.6" height="0.80" fill="rgb(255,60,0)"/>
<rect x="41.2" y="316.60" width="127.6" height="0.80" fill="rgb(224,0,0)"/>
<rect x="41.2" y="317.09" width="127.6" height="0.80" fill="rgb(172,0,0)"/>
<rect x="41.2" y="317.59" width="127.6" height="0.80" fill="rgb(164,0,0)"/>
<rect x="41.2" y="318.09" width="127.6" height="0.80" fill="rgb(203,0,0)"/>
<rect x="41.2" y="318.59" width="127.6" height="0.80" fill="rgb(255,28,0)"/>
<rect x="41.2" y="319.08" width="127.6" height="0.80" fill="rgb(255,144,0)"/>
<rect x="41.2" y="319.58" width="127.6" height="0.80" fill="rgb(227,255,28)"/>
<rect x="41.2" y="320.08" width="127.6" height="0.80" fill="rgb(77,255,178)"/>
<rect x="41.2" y="320.58" width="127.6" height="0.80" fill="rgb(0,186,255)"/>
<rect x="41.2" y="321.07" width="127.6" height="0.80" fill="rgb(0,57,255)"/>
<rect x="41.2" y="321.57" width="127.6" height="0.80" fill="rgb(0,0,214)"/>
<rect x="41.2" y="322.07" width="127.6" height="0.80" fill="rgb(0,0,156)"/>
<rect x="41.2" y="322.57" width="127.6" height="0.80" fill="rgb(0,0,144)"/>
<rect x="41.2" y="323.07" width="127.6" height="0.80" fill="rgb(0,0,179)"/>
<rect x="41.2" y="323.56" width="127.6" height="0.80" fill="rgb(0,4,255)"/>
<rect x="41.2" y="324.06" width="127.6" height="0.80" fill="rgb(0,121,255)"/>
<rect x="41.2" y="324.56" width="127.6" height="0.80" fill="rgb(9,255,246)"/>
<rect x="41.2" y="325.06" width="127.6" height="0.80" fill="rgb(165,255,90)"/>
<rect x="41.2" y="325.55" width="127.6" height="0.80" fill="rgb(255,192,0)"/>
<rect x="41.2" y="326.05" width="127.6" height="0.80" fill="rgb(255,56,0)"/>
<rect x="41.2" y="326.55" width="127.6" height="0.80" fill="rgb(205,0,0)"/>
<rect x="41.2" y="327.05" width="127.6" height="0.80" fill="rgb(141,0,0)"/>
<rect x="41.2" y="327.54" width="127.6" height="0.80" fill="rgb(128,0,0)"/>
<rect x="41.2" y="328.04" width="127.6" height="0.80" fill="rgb(155,0,0)"/>
<rect x="41.2" y="328.54" width="127.6" height="0.80" fill="rgb(234,0,0)"/>
<rect x="41.2" y="329.04" width="127.6" height="0.80" fill="rgb(255,97,0)"/>
<rect x="41.2" y="329.54" width="127.6" height="0.80" fill="rgb(255,244,0)"/>
<rect x="41.2" y="330.03" width="127.6" height="0.80" fill="rgb(105,255,150)"/>
<rect x="41.2" y="330.53" width="127.6" height="0.80" fill="rgb(0,200,255)"/>
<rect x="41.2" y="331.03" width="127.6" height="0.80" fill="rgb(0,56,255)"/>
<rect x="41.2" y="331.53" width="127.6" height="0.80" fill="rgb(0,0,198)"/>
<rect x="41.2" y="332.02" width="127.6" height="0.80" fill="rgb(0,0,128)"/>
<rect x="41.2" y="332.52" width="127.6" height="0.80" fill="rgb(0,0,128)"/>
<rect x="41.2" y="333.02" width="127.6" height="0.80" fill="rgb(0,0,132)"/>
<rect x="41.2" y="333.52" width="127.6" height="0.80" fill="rgb(0,0,209)"/>
<rect x="41.2" y="334.01" width="127.6" height="0.80" fill="rgb(0,73,255)"/>
<rect x="41.2" y="334.51" width="127.6" height="0.80" fill="rgb(0,223,255)"/>
<rect x="41.2" y="335.01" width="127.6" height="0.80" fill="rgb(135,255,120)"/>
<rect x="41.2" y="335.51" width="127.6" height="0.80" fill="rgb(255,209,0)"/>
<rect x="41.2" y="336.00" width="127.6" height="0.80" fill="rgb(255,57,0)"/>
<rect x="41.2" y="336.50" width="127.6" height="0.80" fill="rgb(191,0,0)"/>
</g>
<rect x="41.2" y="417.0" width="127.6" height="127.4" fill="rgb(138,255,117)"/>
<rect x="41.2" y="417.0" width="127.6" height="127.4" fill="#fff" filter="url(#nzc)"/>
<rect x="41.2" y="209.6" width="127.6" height="127.4" fill="#fff" filter="url(#nzb)"/>
<text x="37.5" y="133.5" font-size="11.7" text-anchor="end">0</text>
<text x="37.5" y="108.6" font-size="11.7" text-anchor="end">50</text>
<text x="37.5" y="83.7" font-size="11.7" text-anchor="end">100</text>
<text x="37.5" y="58.8" font-size="11.7" text-anchor="end">150</text>
<text x="37.5" y="33.9" font-size="11.7" text-anchor="end">200</text>
<text x="37.5" y="9.0" font-size="11.7" text-anchor="end">250</text>
<text transform="translate(9.3,65.8) rotate(-90)" font-size="13.3" text-anchor="middle">Y in px</text>
<text x="41.4" y="142.7" font-size="11.7" text-anchor="middle">0</text>
<text x="91.2" y="142.7" font-size="11.7" text-anchor="middle">100</text>
<text x="141.1" y="142.7" font-size="11.7" text-anchor="middle">200</text>
<text x="105.5" y="158.2" font-size="13.3" text-anchor="middle">X in px</text>
<text x="37.5" y="341.0" font-size="11.7" text-anchor="end">0</text>
<text x="37.5" y="316.1" font-size="11.7" text-anchor="end">50</text>
<text x="37.5" y="291.2" font-size="11.7" text-anchor="end">100</text>
<text x="37.5" y="266.3" font-size="11.7" text-anchor="end">150</text>
<text x="37.5" y="241.4" font-size="11.7" text-anchor="end">200</text>
<text x="37.5" y="216.6" font-size="11.7" text-anchor="end">250</text>
<text transform="translate(9.3,273.3) rotate(-90)" font-size="13.3" text-anchor="middle">Y in px</text>
<text x="41.4" y="349.5" font-size="11.7" text-anchor="middle">0</text>
<text x="91.2" y="349.5" font-size="11.7" text-anchor="middle">100</text>
<text x="141.1" y="349.5" font-size="11.7" text-anchor="middle">200</text>
<text x="105.5" y="365.0" font-size="13.3" text-anchor="middle">X in px</text>
<text x="37.5" y="548.4" font-size="11.7" text-anchor="end">0</text>
<text x="37.5" y="523.5" font-size="11.7" text-anchor="end">50</text>
<text x="37.5" y="498.6" font-size="11.7" text-anchor="end">100</text>
<text x="37.5" y="473.7" font-size="11.7" text-anchor="end">150</text>
<text x="37.5" y="448.8" font-size="11.7" text-anchor="end">200</text>
<text x="37.5" y="424.0" font-size="11.7" text-anchor="end">250</text>
<text transform="translate(9.3,480.7) rotate(-90)" font-size="13.3" text-anchor="middle">Y in px</text>
<text x="41.4" y="556.6" font-size="11.7" text-anchor="middle">0</text>
<text x="91.2" y="556.6" font-size="11.7" text-anchor="middle">100</text>
<text x="141.1" y="556.6" font-size="11.7" text-anchor="middle">200</text>
<text x="105.5" y="573.1" font-size="13.3" text-anchor="middle">X in px</text>
<line x1="216.2" x2="381.0" y1="104.18" y2="104.18" stroke="#777" stroke-width="0.8"/>
<line x1="216.2" x2="381.0" y1="79.35" y2="79.35" stroke="#777" stroke-width="0.8"/>
<line x1="216.2" x2="381.0" y1="54.53" y2="54.53" stroke="#777" stroke-width="0.8"/>
<line x1="216.2" x2="381.0" y1="29.70" y2="29.70" stroke="#777" stroke-width="0.8"/>
<line x1="216.2" x2="381.0" y1="4.88" y2="4.88" stroke="#777" stroke-width="0.8"/>
<line x1="257.40" x2="257.40" y1="1.9" y2="129.0" stroke="#222" stroke-width="0.6"/>
<line x1="298.60" x2="298.60" y1="1.9" y2="129.0" stroke="#222" stroke-width="0.6"/>
<line x1="339.80" x2="339.80" y1="1.9" y2="129.0" stroke="#222" stroke-width="0.6"/>
<rect x="216.2" y="1.9" width="164.8" height="127.1" fill="none" stroke="#4a4a4a" stroke-width="1"/>
<text x="211.9" y="133.6" font-size="11.7" text-anchor="end">0</text>
<text x="211.9" y="108.8" font-size="11.7" text-anchor="end">50</text>
<text x="211.9" y="83.9" font-size="11.7" text-anchor="end">100</text>
<text x="211.9" y="59.1" font-size="11.7" text-anchor="end">150</text>
<text x="211.9" y="34.3" font-size="11.7" text-anchor="end">200</text>
<text x="211.9" y="9.5" font-size="11.7" text-anchor="end">250</text>
<text transform="translate(185.6,65.5) rotate(-90)" font-size="13.3" text-anchor="middle">Y in px</text>
<text x="214.6" y="142.2" font-size="11.7" text-anchor="middle">-10</text>
<text x="255.8" y="142.2" font-size="11.7" text-anchor="middle">-5</text>
<text x="298.6" y="142.2" font-size="11.7" text-anchor="middle">0</text>
<text x="339.8" y="142.2" font-size="11.7" text-anchor="middle">5</text>
<text x="381.0" y="142.2" font-size="11.7" text-anchor="middle">10</text>
<path d="M251.17,129.00 L247.64,128.88 L244.44,128.75 L241.57,128.63 L239.06,128.50 L236.92,128.38 L235.17,128.26 L233.80,128.13 L232.85,128.01 L232.29,127.88 L232.15,127.76 L232.42,127.63 L233.09,127.51 L234.17,127.39 L235.64,127.26 L237.50,127.14 L239.73,127.01 L242.32,126.89 L245.25,126.77 L248.50,126.64 L252.05,126.52 L255.89,126.39 L259.98,126.27 L264.30,126.15 L268.83,126.02 L273.53,125.90 L278.37,125.77 L283.34,125.65 L288.38,125.52 L293.48,125.40 L298.60,125.28 L303.71,125.15 L308.78,125.03 L313.78,124.90 L318.67,124.78 L323.43,124.66 L328.03,124.53 L332.44,124.41 L336.63,124.28 L340.58,124.16 L344.26,124.04 L347.66,123.91 L350.74,123.79 L353.50,123.66 L355.92,123.54 L357.97,123.41 L359.66,123.29 L360.97,123.17 L361.89,123.04 L362.42,122.92 L362.55,122.79 L362.29,122.67 L361.64,122.55 L360.60,122.42 L359.19,122.30 L357.40,122.17 L355.25,122.05 L352.76,121.93 L349.93,121.80 L346.80,121.68 L343.38,121.55 L339.69,121.43 L335.75,121.30 L331.59,121.18 L327.24,121.06 L322.72,120.93 L318.05,120.81 L313.28,120.68 L308.43,120.56 L303.52,120.44 L298.60,120.31 L293.69,120.19 L288.81,120.06 L284.01,119.94 L279.30,119.82 L274.72,119.69 L270.30,119.57 L266.07,119.44 L262.04,119.32 L258.24,119.19 L254.70,119.07 L251.44,118.95 L248.48,118.82 L245.83,118.70 L243.51,118.57 L241.53,118.45 L239.91,118.33 L238.66,118.20 L237.78,118.08 L237.27,117.95 L237.14,117.83 L237.40,117.70 L238.02,117.58 L239.02,117.46 L240.39,117.33 L242.11,117.21 L244.18,117.08 L246.57,116.96 L249.29,116.84 L252.30,116.71 L255.59,116.59 L259.13,116.46 L262.92,116.34 L266.91,116.22 L271.10,116.09 L275.44,115.97 L279.92,115.84 L284.50,115.72 L289.16,115.59 L293.87,115.47 L298.60,115.35 L303.32,115.22 L308.00,115.10 L312.61,114.97 L317.13,114.85 L321.52,114.73 L325.76,114.60 L329.83,114.48 L333.70,114.35 L337.34,114.23 L340.73,114.11 L343.86,113.98 L346.70,113.86 L349.24,113.73 L351.47,113.61 L353.36,113.48 L354.91,113.36 L356.11,113.24 L356.96,113.11 L357.44,112.99 L357.56,112.86 L357.32,112.74 L356.71,112.62 L355.75,112.49 L354.44,112.37 L352.78,112.24 L350.80,112.12 L348.50,112.00 L345.90,111.87 L343.01,111.75 L339.85,111.62 L336.45,111.50 L332.82,111.37 L328.98,111.25 L324.97,111.13 L320.80,111.00 L316.51,110.88 L312.12,110.75 L307.65,110.63 L303.13,110.51 L298.60,110.38 L294.08,110.26 L289.59,110.13 L285.17,110.01 L280.84,109.89 L276.63,109.76 L272.57,109.64 L268.67,109.51 L264.97,109.39 L261.48,109.26 L258.23,109.14 L255.24,109.02 L252.52,108.89 L250.09,108.77 L247.96,108.64 L246.15,108.52 L244.66,108.40 L243.52,108.27 L242.71,108.15 L242.25,108.02 L242.14,107.90 L242.37,107.78 L242.96,107.65 L243.88,107.53 L245.14,107.40 L246.72,107.28 L248.63,107.15 L250.83,107.03 L253.32,106.91 L256.09,106.78 L259.12,106.66 L262.38,106.53 L265.85,106.41 L269.52,106.29 L273.36,106.16 L277.35,106.04 L281.46,105.91 L285.67,105.79 L289.94,105.67 L294.26,105.54 L298.60,105.42 L302.93,105.29 L307.22,105.17 L311.45,105.04 L315.58,104.92 L319.61,104.80 L323.50,104.67 L327.22,104.55 L330.76,104.42 L334.09,104.30 L337.20,104.18 L340.06,104.05 L342.66,103.93 L344.99,103.80 L347.02,103.68 L348.75,103.56 L350.16,103.43 L351.26,103.31 L352.02,103.18 L352.46,103.06 L352.57,102.93 L352.34,102.81 L351.78,102.69 L350.89,102.56 L349.69,102.44 L348.17,102.31 L346.35,102.19 L344.24,102.07 L341.86,101.94 L339.21,101.82 L336.32,101.69 L333.20,101.57 L329.88,101.45 L326.37,101.32 L322.70,101.20 L318.89,101.07 L314.97,100.95 L310.95,100.82 L306.87,100.70 L302.74,100.58 L298.60,100.45 L294.47,100.33 L290.37,100.20 L286.34,100.08 L282.39,99.96 L278.55,99.83 L274.84,99.71 L271.28,99.58 L267.91,99.46 L264.73,99.34 L261.76,99.21 L259.04,99.09 L256.56,98.96 L254.34,98.84 L252.41,98.71 L250.76,98.59 L249.41,98.47 L248.37,98.34 L247.64,98.22 L247.23,98.09 L247.13,97.97 L247.35,97.85 L247.89,97.72 L248.74,97.60 L249.89,97.47 L251.34,97.35 L253.07,97.22 L255.09,97.10 L257.36,96.98 L259.89,96.85 L262.65,96.73 L265.62,96.60 L268.79,96.48 L272.13,96.36 L275.63,96.23 L279.26,96.11 L283.00,95.98 L286.83,95.86 L290.72,95.74 L294.65,95.61 L298.60,95.49 L302.54,95.36 L306.44,95.24 L310.28,95.11 L314.04,94.99 L317.70,94.87 L321.23,94.74 L324.61,94.62 L327.83,94.49 L330.85,94.37 L333.67,94.25 L336.27,94.12 L338.62,94.00 L340.73,93.87 L342.57,93.75 L344.13,93.63 L345.41,93.50 L346.40,93.38 L347.09,93.25 L347.48,93.13 L347.57,93.00 L347.36,92.88 L346.85,92.76 L346.04,92.63 L344.94,92.51 L343.56,92.38 L341.90,92.26 L339.98,92.14 L337.82,92.01 L335.41,91.89 L332.79,91.76 L329.96,91.64 L326.94,91.52 L323.76,91.39 L320.44,91.27 L316.98,91.14 L313.42,91.02 L309.78,90.89 L306.09,90.77 L302.35,90.65 L298.60,90.52 L294.86,90.40 L291.15,90.27 L287.50,90.15 L283.93,90.03 L280.46,89.90 L277.10,89.78 L273.89,89.65 L270.84,89.53 L267.97,89.41 L265.30,89.28 L262.83,89.16 L260.60,89.03 L258.60,88.91 L256.86,88.78 L255.37,88.66 L254.16,88.54 L253.23,88.41 L252.57,88.29 L252.21,88.16 L252.12,88.04 L252.33,87.92 L252.82,87.79 L253.59,87.67 L254.64,87.54 L255.95,87.42 L257.52,87.30 L259.35,87.17 L261.40,87.05 L263.69,86.92 L266.18,86.80 L268.86,86.67 L271.72,86.55 L274.74,86.43 L277.90,86.30 L281.17,86.18 L284.55,86.05 L288.00,85.93 L291.51,85.81 L295.05,85.68 L298.60,85.56 L302.14,85.43 L305.66,85.31 L309.11,85.19 L312.50,85.06 L315.79,84.94 L318.96,84.81 L322.00,84.69 L324.89,84.56 L327.61,84.44 L330.14,84.32 L332.47,84.19 L334.58,84.07 L336.47,83.94 L338.12,83.82 L339.52,83.70 L340.66,83.57 L341.55,83.45 L342.16,83.32 L342.51,83.20 L342.58,83.08 L342.38,82.95 L341.91,82.83 L341.18,82.70 L340.19,82.58 L338.94,82.45 L337.45,82.33 L335.73,82.21 L333.78,82.08 L331.61,81.96 L329.26,81.83 L326.72,81.71 L324.01,81.59 L321.15,81.46 L318.17,81.34 L315.07,81.21 L311.88,81.09 L308.62,80.97 L305.30,80.84 L301.96,80.72 L298.60,80.59 L295.25,80.47 L291.93,80.34 L288.67,80.22 L285.47,80.10 L282.37,79.97 L279.37,79.85 L276.50,79.72 L273.78,79.60 L271.21,79.48 L268.83,79.35 L266.63,79.23 L264.64,79.10 L262.86,78.98 L261.31,78.86 L259.99,78.73 L258.91,78.61 L258.08,78.48 L257.51,78.36 L257.18,78.23 L257.12,78.11 L257.31,77.99 L257.75,77.86 L258.45,77.74 L259.39,77.61 L260.56,77.49 L261.97,77.37 L263.60,77.24 L265.44,77.12 L267.48,76.99 L269.71,76.87 L272.11,76.75 L274.66,76.62 L277.35,76.50 L280.16,76.37 L283.08,76.25 L286.09,76.12 L289.16,76.00 L292.29,75.88 L295.44,75.75 L298.60,75.63 L301.75,75.50 L304.87,75.38 L307.95,75.26 L310.96,75.13 L313.88,75.01 L316.70,74.88 L319.39,74.76 L321.96,74.63 L324.36,74.51 L326.61,74.39 L328.67,74.26 L330.54,74.14 L332.21,74.01 L333.67,73.89 L334.91,73.77 L335.91,73.64 L336.69,73.52 L337.23,73.39 L337.53,73.27 L337.59,73.15 L337.40,73.02 L336.98,72.90 L336.33,72.77 L335.44,72.65 L334.33,72.52 L333.00,72.40 L331.47,72.28 L329.74,72.15 L327.82,72.03 L325.73,71.90 L323.47,71.78 L321.07,71.66 L318.55,71.53 L315.90,71.41 L313.16,71.28 L310.34,71.16 L307.45,71.04 L304.52,70.91 L301.57,70.79 L298.60,70.66 L295.64,70.54 L292.72,70.41 L289.83,70.29 L287.02,70.17 L284.28,70.04 L281.64,69.92 L279.11,69.79 L276.71,69.67 L274.46,69.55 L272.36,69.42 L270.43,69.30 L268.68,69.17 L267.12,69.05 L265.75,68.93 L264.60,68.80 L263.66,68.68 L262.94,68.55 L262.44,68.43 L262.16,68.30 L262.11,68.18 L262.29,68.06 L262.68,67.93 L263.30,67.81 L264.13,67.68 L265.18,67.56 L266.42,67.44 L267.86,67.31 L269.48,67.19 L271.28,67.06 L273.24,66.94 L275.35,66.82 L277.59,66.69 L279.96,66.57 L282.43,66.44 L284.99,66.32 L287.63,66.19 L290.33,66.07 L293.07,65.95 L295.83,65.82 L298.60,65.70 L301.36,65.57 L304.09,65.45 L306.78,65.33 L309.41,65.20 L311.97,65.08 L314.43,64.95 L316.78,64.83 L319.02,64.71 L321.12,64.58 L323.08,64.46 L324.87,64.33 L326.50,64.21 L327.96,64.08 L329.22,63.96 L330.29,63.84 L331.17,63.71 L331.83,63.59 L332.30,63.46 L332.55,63.34 L332.59,63.22 L332.43,63.09 L332.05,62.97 L331.47,62.84 L330.69,62.72 L329.72,62.60 L328.55,62.47 L327.21,62.35 L325.70,62.22 L324.02,62.10 L322.19,61.97 L320.23,61.85 L318.14,61.73 L315.94,61.60 L313.64,61.48 L311.25,61.35 L308.80,61.23 L306.29,61.11 L303.74,60.98 L301.17,60.86 L298.60,60.73 L296.04,60.61 L293.50,60.49 L291.00,60.36 L288.56,60.24 L286.19,60.11 L283.90,59.99 L281.72,59.86 L279.65,59.74 L277.70,59.62 L275.89,59.49 L274.22,59.37 L272.72,59.24 L271.37,59.12 L270.20,59.00 L269.21,58.87 L268.41,58.75 L267.79,58.62 L267.37,58.50 L267.14,58.38 L267.10,58.25 L267.26,58.13 L267.62,58.00 L268.16,57.88 L268.88,57.75 L269.79,57.63 L270.87,57.51 L272.12,57.38 L273.52,57.26 L275.08,57.13 L276.77,57.01 L278.59,56.89 L280.53,56.76 L282.57,56.64 L284.70,56.51 L286.91,56.39 L289.18,56.27 L291.50,56.14 L293.85,56.02 L296.22,55.89 L298.60,55.77 L300.97,55.64 L303.31,55.52 L305.62,55.40 L307.87,55.27 L310.06,55.15 L312.16,55.02 L314.18,54.90 L316.09,54.78 L317.88,54.65 L319.55,54.53 L321.08,54.40 L322.46,54.28 L323.70,54.15 L324.77,54.03 L325.68,53.91 L326.42,53.78 L326.98,53.66 L327.36,53.53 L327.57,53.41 L327.60,53.29 L327.45,53.16 L327.12,53.04 L326.62,52.91 L325.94,52.79 L325.10,52.67 L324.10,52.54 L322.95,52.42 L321.66,52.29 L320.22,52.17 L318.66,52.04 L316.99,51.92 L315.20,51.80 L313.33,51.67 L311.37,51.55 L309.34,51.42 L307.25,51.30 L305.12,51.18 L302.96,51.05 L300.78,50.93 L298.60,50.80 L296.43,50.68 L294.28,50.56 L292.17,50.43 L290.10,50.31 L288.10,50.18 L286.17,50.06 L284.33,49.93 L282.58,49.81 L280.94,49.69 L279.42,49.56 L278.02,49.44 L276.76,49.31 L275.63,49.19 L274.65,49.07 L273.83,48.94 L273.16,48.82 L272.65,48.69 L272.30,48.57 L272.12,48.45 L272.10,48.32 L272.24,48.20 L272.55,48.07 L273.01,47.95 L273.63,47.82 L274.40,47.70 L275.32,47.58 L276.38,47.45 L277.56,47.33 L278.87,47.20 L280.30,47.08 L281.83,46.96 L283.46,46.83 L285.18,46.71 L286.97,46.58 L288.82,46.46 L290.72,46.34 L292.66,46.21 L294.63,46.09 L296.61,45.96 L298.60,45.84 L300.58,45.71 L302.53,45.59 L304.45,45.47 L306.33,45.34 L308.14,45.22 L309.89,45.09 L311.57,44.97 L313.15,44.85 L314.64,44.72 L316.02,44.60 L317.28,44.47 L318.42,44.35 L319.44,44.23 L320.32,44.10 L321.07,43.98 L321.67,43.85 L322.12,43.73 L322.43,43.60 L322.59,43.48 L322.61,43.36 L322.47,43.23 L322.19,43.11 L321.76,42.98 L321.19,42.86 L320.49,42.74 L319.66,42.61 L318.70,42.49 L317.62,42.36 L316.43,42.24 L315.13,42.12 L313.74,41.99 L312.27,41.87 L310.72,41.74 L309.10,41.62 L307.43,41.49 L305.71,41.37 L303.96,41.25 L302.18,41.12 L300.39,41.00 L298.60,40.87 L296.82,40.75 L295.06,40.63 L293.33,40.50 L291.64,40.38 L290.01,40.25 L288.44,40.13 L286.94,40.01 L285.52,39.88 L284.19,39.76 L282.95,39.63 L281.82,39.51 L280.80,39.38 L279.89,39.26 L279.10,39.14 L278.44,39.01 L277.91,38.89 L277.50,38.76 L277.23,38.64 L277.10,38.52 L277.09,38.39 L277.22,38.27 L277.48,38.14 L277.87,38.02 L278.38,37.90 L279.02,37.77 L279.77,37.65 L280.63,37.52 L281.60,37.40 L282.67,37.27 L283.83,37.15 L285.08,37.03 L286.40,36.90 L287.79,36.78 L289.23,36.65 L290.73,36.53 L292.26,36.41 L293.83,36.28 L295.41,36.16 L297.01,36.03 L298.60,35.91 L300.18,35.79 L301.75,35.66 L303.29,35.54 L304.78,35.41 L306.23,35.29 L307.63,35.16 L308.96,35.04 L310.22,34.92 L311.39,34.79 L312.48,34.67 L313.48,34.54 L314.38,34.42 L315.18,34.30 L315.87,34.17 L316.45,34.05 L316.92,33.92 L317.27,33.80 L317.50,33.68 L317.62,33.55 L317.61,33.43 L317.49,33.30 L317.25,33.18 L316.90,33.05 L316.44,32.93 L315.88,32.81 L315.21,32.68 L314.44,32.56 L313.58,32.43 L312.63,32.31 L311.60,32.19 L310.50,32.06 L309.33,31.94 L308.11,31.81 L306.83,31.69 L305.52,31.56 L304.17,31.44 L302.79,31.32 L301.40,31.19 L300.00,31.07 L298.60,30.94 L297.21,30.82 L295.84,30.70 L294.50,30.57 L293.19,30.45 L291.92,30.32 L290.71,30.20 L289.55,30.08 L288.45,29.95 L287.43,29.83 L286.48,29.70 L285.61,29.58 L284.84,29.45 L284.15,29.33 L283.55,29.21 L283.05,29.08 L282.66,28.96 L282.36,28.83 L282.17,28.71 L282.07,28.59 L282.08,28.46 L282.20,28.34 L282.41,28.21 L282.72,28.09 L283.13,27.97 L283.63,27.84 L284.22,27.72 L284.89,27.59 L285.64,27.47 L286.47,27.34 L287.36,27.22 L288.32,27.10 L289.33,26.97 L290.39,26.85 L291.50,26.72 L292.64,26.60 L293.81,26.48 L294.99,26.35 L296.19,26.23 L297.40,26.10 L298.60,25.98 L299.79,25.86 L300.97,25.73 L302.12,25.61 L303.24,25.48 L304.32,25.36 L305.36,25.23 L306.35,25.11 L307.28,24.99 L308.15,24.86 L308.95,24.74 L309.69,24.61 L310.35,24.49 L310.93,24.37 L311.42,24.24 L311.84,24.12 L312.17,23.99 L312.41,23.87 L312.57,23.75 L312.64,23.62 L312.62,23.50 L312.51,23.37 L312.32,23.25 L312.05,23.12 L311.69,23.00 L311.26,22.88 L310.76,22.75 L310.18,22.63 L309.54,22.50 L308.83,22.38 L308.07,22.26 L307.26,22.13 L306.40,22.01 L305.50,21.88 L304.57,21.76 L303.61,21.64 L302.62,21.51 L301.62,21.39 L300.62,21.26 L299.61,21.14 L298.60,21.01 L297.60,20.89 L296.62,20.77 L295.66,20.64 L294.73,20.52 L293.83,20.39 L292.97,20.27 L292.16,20.15 L291.39,20.02 L290.67,19.90 L290.01,19.77 L289.41,19.65 L288.87,19.53 L288.40,19.40 L288.00,19.28 L287.67,19.15 L287.40,19.03 L287.21,18.90 L287.10,18.78 L287.05,18.66 L287.08,18.53 L287.18,18.41 L287.34,18.28 L287.58,18.16 L287.88,18.04 L288.24,17.91 L288.67,17.79 L289.15,17.66 L289.68,17.54 L290.27,17.42 L290.89,17.29 L291.56,17.17 L292.27,17.04 L293.00,16.92 L293.77,16.79 L294.55,16.67 L295.35,16.55 L296.16,16.42 L296.97,16.30 L297.79,16.17 L298.60,16.05 L299.40,15.93 L300.19,15.80 L300.95,15.68 L301.70,15.55 L302.41,15.43 L303.09,15.31 L303.74,15.18 L304.34,15.06 L304.91,14.93 L305.42,14.81 L305.89,14.68 L306.31,14.56 L306.67,14.44 L306.97,14.31 L307.23,14.19 L307.42,14.06 L307.56,13.94 L307.64,13.82 L307.66,13.69 L307.62,13.57 L307.53,13.44 L307.39,13.32 L307.19,13.20 L306.95,13.07 L306.65,12.95 L306.31,12.82 L305.92,12.70 L305.50,12.57 L305.04,12.45 L304.54,12.33 L304.02,12.20 L303.46,12.08 L302.89,11.95 L302.30,11.83 L301.70,11.71 L301.08,11.58 L300.46,11.46 L299.84,11.33 L299.22,11.21 L298.60,11.08 L297.99,10.96 L297.40,10.84 L296.83,10.71 L296.27,10.59 L295.74,10.46 L295.24,10.34 L294.77,10.22 L294.32,10.09 L293.91,9.97 L293.54,9.84 L293.21,9.72 L292.91,9.60 L292.66,9.47 L292.45,9.35 L292.28,9.22 L292.15,9.10 L292.07,8.97 L292.03,8.85 L292.03,8.73 L292.07,8.60 L292.15,8.48 L292.28,8.35 L292.43,8.23 L292.63,8.11 L292.86,7.98 L293.12,7.86 L293.41,7.73 L293.72,7.61 L294.06,7.49 L294.43,7.36 L294.81,7.24 L295.20,7.11 L295.61,6.99 L296.03,6.86 L296.46,6.74 L296.89,6.62 L297.32,6.49 L297.75,6.37 L298.18,6.24 L298.60,6.12 L299.01,6.00 L299.41,5.87 L299.79,5.75 L300.15,5.62 L300.50,5.50 L300.83,5.38 L301.13,5.25 L301.41,5.13 L301.66,5.00 L301.89,4.88 L302.09,4.75 L302.27,4.63 L302.41,4.51 L302.53,4.38 L302.61,4.26 L302.67,4.13 L302.70,4.01 L302.71,3.89 L302.68,3.76 L302.63,3.64 L302.56,3.51 L302.46,3.39" fill="none" stroke="#ff1010" stroke-width="1.15" stroke-linejoin="round"/>
<circle cx="251.17" cy="129.00" r="0.7" fill="#2222ff" opacity="0.85"/>
<circle cx="236.92" cy="128.38" r="0.7" fill="#2222ff" opacity="0.85"/>
<circle cx="232.15" cy="127.76" r="0.7" fill="#2222ff" opacity="0.85"/>
<circle cx="237.50" cy="127.14" r="0.7" fill="#2222ff" opacity="0.85"/>
<circle cx="252.05" cy="126.52" r="0.7" fill="#2222ff" opacity="0.85"/>
<circle cx="273.53" cy="125.90" r="0.7" fill="#2222ff" opacity="0.85"/>
<circle cx="298.60" cy="125.28" r="0.7" fill="#2222ff" opacity="0.85"/>
<circle cx="323.43" cy="124.66" r="0.7" fill="#2222ff" opacity="0.85"/>
<circle cx="344.26" cy="124.04" r="0.7" fill="#2222ff" opacity="0.85"/>
<circle cx="357.97" cy="123.41" r="0.7" fill="#2222ff" opacity="0.85"/>
<circle cx="362.55" cy="122.79" r="0.7" fill="#2222ff" opacity="0.85"/>
<circle cx="357.40" cy="122.17" r="0.7" fill="#2222ff" opacity="0.85"/>
<circle cx="343.38" cy="121.55" r="0.7" fill="#2222ff" opacity="0.85"/>
<circle cx="322.72" cy="120.93" r="0.7" fill="#2222ff" opacity="0.85"/>
<circle cx="298.60" cy="120.31" r="0.7" fill="#2222ff" opacity="0.85"/>
<circle cx="274.72" cy="119.69" r="0.7" fill="#2222ff" opacity="0.85"/>
<circle cx="254.70" cy="119.07" r="0.7" fill="#2222ff" opacity="0.85"/>
<circle cx="241.53" cy="118.45" r="0.7" fill="#2222ff" opacity="0.85"/>
<circle cx="237.14" cy="117.83" r="0.7" fill="#2222ff" opacity="0.85"/>
<circle cx="242.11" cy="117.21" r="0.7" fill="#2222ff" opacity="0.85"/>
<circle cx="255.59" cy="116.59" r="0.7" fill="#2222ff" opacity="0.85"/>
<circle cx="275.44" cy="115.97" r="0.7" fill="#2222ff" opacity="0.85"/>
<circle cx="298.60" cy="115.35" r="0.7" fill="#2222ff" opacity="0.85"/>
<circle cx="321.52" cy="114.73" r="0.7" fill="#2222ff" opacity="0.85"/>
<circle cx="340.73" cy="114.11" r="0.7" fill="#2222ff" opacity="0.85"/>
<circle cx="353.36" cy="113.48" r="0.7" fill="#2222ff" opacity="0.85"/>
<circle cx="357.56" cy="112.86" r="0.7" fill="#2222ff" opacity="0.85"/>
<circle cx="352.78" cy="112.24" r="0.7" fill="#2222ff" opacity="0.85"/>
<circle cx="339.85" cy="111.62" r="0.7" fill="#2222ff" opacity="0.85"/>
<circle cx="320.80" cy="111.00" r="0.7" fill="#2222ff" opacity="0.85"/>
<circle cx="298.60" cy="110.38" r="0.7" fill="#2222ff" opacity="0.85"/>
<circle cx="276.63" cy="109.76" r="0.7" fill="#2222ff" opacity="0.85"/>
<circle cx="258.23" cy="109.14" r="0.7" fill="#2222ff" opacity="0.85"/>
<circle cx="246.15" cy="108.52" r="0.7" fill="#2222ff" opacity="0.85"/>
<circle cx="242.14" cy="107.90" r="0.7" fill="#2222ff" opacity="0.85"/>
<circle cx="246.72" cy="107.28" r="0.7" fill="#2222ff" opacity="0.85"/>
<circle cx="259.12" cy="106.66" r="0.7" fill="#2222ff" opacity="0.85"/>
<circle cx="277.35" cy="106.04" r="0.7" fill="#2222ff" opacity="0.85"/>
<circle cx="298.60" cy="105.42" r="0.7" fill="#2222ff" opacity="0.85"/>
<circle cx="319.61" cy="104.80" r="0.7" fill="#2222ff" opacity="0.85"/>
<circle cx="337.20" cy="104.18" r="0.7" fill="#2222ff" opacity="0.85"/>
<circle cx="348.75" cy="103.56" r="0.7" fill="#2222ff" opacity="0.85"/>
<circle cx="352.57" cy="102.93" r="0.7" fill="#2222ff" opacity="0.85"/>
<circle cx="348.17" cy="102.31" r="0.7" fill="#2222ff" opacity="0.85"/>
<circle cx="336.32" cy="101.69" r="0.7" fill="#2222ff" opacity="0.85"/>
<circle cx="318.89" cy="101.07" r="0.7" fill="#2222ff" opacity="0.85"/>
<circle cx="298.60" cy="100.45" r="0.7" fill="#2222ff" opacity="0.85"/>
<circle cx="278.55" cy="99.83" r="0.7" fill="#2222ff" opacity="0.85"/>
<circle cx="261.76" cy="99.21" r="0.7" fill="#2222ff" opacity="0.85"/>
<circle cx="250.76" cy="98.59" r="0.7" fill="#2222ff" opacity="0.85"/>
<circle cx="247.13" cy="97.97" r="0.7" fill="#2222ff" opacity="0.85"/>
<circle cx="251.34" cy="97.35" r="0.7" fill="#2222ff" opacity="0.85"/>
<circle cx="262.65" cy="96.73" r="0.7" fill="#2222ff" opacity="0.85"/>
<circle cx="279.26" cy="96.11" r="0.7" fill="#2222ff" opacity="0.85"/>
<circle cx="298.60" cy="95.49" r="0.7" fill="#2222ff" opacity="0.85"/>
<circle cx="317.70" cy="94.87" r="0.7" fill="#2222ff" opacity="0.85"/>
<circle cx="333.67" cy="94.25" r="0.7" fill="#2222ff" opacity="0.85"/>
<circle cx="344.13" cy="93.63" r="0.7" fill="#2222ff" opacity="0.85"/>
<circle cx="347.57" cy="93.00" r="0.7" fill="#2222ff" opacity="0.85"/>
<circle cx="343.56" cy="92.38" r="0.7" fill="#2222ff" opacity="0.85"/>
<circle cx="332.79" cy="91.76" r="0.7" fill="#2222ff" opacity="0.85"/>
<circle cx="316.98" cy="91.14" r="0.7" fill="#2222ff" opacity="0.85"/>
<circle cx="298.60" cy="90.52" r="0.7" fill="#2222ff" opacity="0.85"/>
<circle cx="280.46" cy="89.90" r="0.7" fill="#2222ff" opacity="0.85"/>
<circle cx="265.30" cy="89.28" r="0.7" fill="#2222ff" opacity="0.85"/>
<circle cx="255.37" cy="88.66" r="0.7" fill="#2222ff" opacity="0.85"/>
<circle cx="252.12" cy="88.04" r="0.7" fill="#2222ff" opacity="0.85"/>
<circle cx="255.95" cy="87.42" r="0.7" fill="#2222ff" opacity="0.85"/>
<circle cx="266.18" cy="86.80" r="0.7" fill="#2222ff" opacity="0.85"/>
<circle cx="281.17" cy="86.18" r="0.7" fill="#2222ff" opacity="0.85"/>
<circle cx="298.60" cy="85.56" r="0.7" fill="#2222ff" opacity="0.85"/>
<circle cx="315.79" cy="84.94" r="0.7" fill="#2222ff" opacity="0.85"/>
<circle cx="330.14" cy="84.32" r="0.7" fill="#2222ff" opacity="0.85"/>
<circle cx="339.52" cy="83.70" r="0.7" fill="#2222ff" opacity="0.85"/>
<circle cx="342.58" cy="83.08" r="0.7" fill="#2222ff" opacity="0.85"/>
<circle cx="338.94" cy="82.45" r="0.7" fill="#2222ff" opacity="0.85"/>
<circle cx="329.26" cy="81.83" r="0.7" fill="#2222ff" opacity="0.85"/>
<circle cx="315.07" cy="81.21" r="0.7" fill="#2222ff" opacity="0.85"/>
<circle cx="298.60" cy="80.59" r="0.7" fill="#2222ff" opacity="0.85"/>
<circle cx="282.37" cy="79.97" r="0.7" fill="#2222ff" opacity="0.85"/>
<circle cx="268.83" cy="79.35" r="0.7" fill="#2222ff" opacity="0.85"/>
<circle cx="259.99" cy="78.73" r="0.7" fill="#2222ff" opacity="0.85"/>
<circle cx="257.12" cy="78.11" r="0.7" fill="#2222ff" opacity="0.85"/>
<circle cx="260.56" cy="77.49" r="0.7" fill="#2222ff" opacity="0.85"/>
<circle cx="269.71" cy="76.87" r="0.7" fill="#2222ff" opacity="0.85"/>
<circle cx="283.08" cy="76.25" r="0.7" fill="#2222ff" opacity="0.85"/>
<circle cx="298.60" cy="75.63" r="0.7" fill="#2222ff" opacity="0.85"/>
<circle cx="313.88" cy="75.01" r="0.7" fill="#2222ff" opacity="0.85"/>
<circle cx="326.61" cy="74.39" r="0.7" fill="#2222ff" opacity="0.85"/>
<circle cx="334.91" cy="73.77" r="0.7" fill="#2222ff" opacity="0.85"/>
<circle cx="337.59" cy="73.15" r="0.7" fill="#2222ff" opacity="0.85"/>
<circle cx="334.33" cy="72.52" r="0.7" fill="#2222ff" opacity="0.85"/>
<circle cx="325.73" cy="71.90" r="0.7" fill="#2222ff" opacity="0.85"/>
<circle cx="313.16" cy="71.28" r="0.7" fill="#2222ff" opacity="0.85"/>
<circle cx="298.60" cy="70.66" r="0.7" fill="#2222ff" opacity="0.85"/>
<circle cx="284.28" cy="70.04" r="0.7" fill="#2222ff" opacity="0.85"/>
<circle cx="272.36" cy="69.42" r="0.7" fill="#2222ff" opacity="0.85"/>
<circle cx="264.60" cy="68.80" r="0.7" fill="#2222ff" opacity="0.85"/>
<circle cx="262.11" cy="68.18" r="0.7" fill="#2222ff" opacity="0.85"/>
<circle cx="265.18" cy="67.56" r="0.7" fill="#2222ff" opacity="0.85"/>
<circle cx="273.24" cy="66.94" r="0.7" fill="#2222ff" opacity="0.85"/>
<circle cx="284.99" cy="66.32" r="0.7" fill="#2222ff" opacity="0.85"/>
<circle cx="298.60" cy="65.70" r="0.7" fill="#2222ff" opacity="0.85"/>
<circle cx="311.97" cy="65.08" r="0.7" fill="#2222ff" opacity="0.85"/>
<circle cx="323.08" cy="64.46" r="0.7" fill="#2222ff" opacity="0.85"/>
<circle cx="330.29" cy="63.84" r="0.7" fill="#2222ff" opacity="0.85"/>
<circle cx="332.59" cy="63.22" r="0.7" fill="#2222ff" opacity="0.85"/>
<circle cx="329.72" cy="62.60" r="0.7" fill="#2222ff" opacity="0.85"/>
<circle cx="322.19" cy="61.97" r="0.7" fill="#2222ff" opacity="0.85"/>
<circle cx="311.25" cy="61.35" r="0.7" fill="#2222ff" opacity="0.85"/>
<circle cx="298.60" cy="60.73" r="0.7" fill="#2222ff" opacity="0.85"/>
<circle cx="286.19" cy="60.11" r="0.7" fill="#2222ff" opacity="0.85"/>
<circle cx="275.89" cy="59.49" r="0.7" fill="#2222ff" opacity="0.85"/>
<circle cx="269.21" cy="58.87" r="0.7" fill="#2222ff" opacity="0.85"/>
<circle cx="267.10" cy="58.25" r="0.7" fill="#2222ff" opacity="0.85"/>
<circle cx="269.79" cy="57.63" r="0.7" fill="#2222ff" opacity="0.85"/>
<circle cx="276.77" cy="57.01" r="0.7" fill="#2222ff" opacity="0.85"/>
<circle cx="286.91" cy="56.39" r="0.7" fill="#2222ff" opacity="0.85"/>
<circle cx="298.60" cy="55.77" r="0.7" fill="#2222ff" opacity="0.85"/>
<circle cx="310.06" cy="55.15" r="0.7" fill="#2222ff" opacity="0.85"/>
<circle cx="319.55" cy="54.53" r="0.7" fill="#2222ff" opacity="0.85"/>
<circle cx="325.68" cy="53.91" r="0.7" fill="#2222ff" opacity="0.85"/>
<circle cx="327.60" cy="53.29" r="0.7" fill="#2222ff" opacity="0.85"/>
<circle cx="325.10" cy="52.67" r="0.7" fill="#2222ff" opacity="0.85"/>
<circle cx="318.66" cy="52.04" r="0.7" fill="#2222ff" opacity="0.85"/>
<circle cx="309.34" cy="51.42" r="0.7" fill="#2222ff" opacity="0.85"/>
<circle cx="298.60" cy="50.80" r="0.7" fill="#2222ff" opacity="0.85"/>
<circle cx="288.10" cy="50.18" r="0.7" fill="#2222ff" opacity="0.85"/>
<circle cx="279.42" cy="49.56" r="0.7" fill="#2222ff" opacity="0.85"/>
<circle cx="273.83" cy="48.94" r="0.7" fill="#2222ff" opacity="0.85"/>
<circle cx="272.10" cy="48.32" r="0.7" fill="#2222ff" opacity="0.85"/>
<circle cx="274.40" cy="47.70" r="0.7" fill="#2222ff" opacity="0.85"/>
<circle cx="280.30" cy="47.08" r="0.7" fill="#2222ff" opacity="0.85"/>
<circle cx="288.82" cy="46.46" r="0.7" fill="#2222ff" opacity="0.85"/>
<circle cx="298.60" cy="45.84" r="0.7" fill="#2222ff" opacity="0.85"/>
<circle cx="308.14" cy="45.22" r="0.7" fill="#2222ff" opacity="0.85"/>
<circle cx="316.02" cy="44.60" r="0.7" fill="#2222ff" opacity="0.85"/>
<circle cx="321.07" cy="43.98" r="0.7" fill="#2222ff" opacity="0.85"/>
<circle cx="322.61" cy="43.36" r="0.7" fill="#2222ff" opacity="0.85"/>
<circle cx="320.49" cy="42.74" r="0.7" fill="#2222ff" opacity="0.85"/>
<circle cx="315.13" cy="42.12" r="0.7" fill="#2222ff" opacity="0.85"/>
<circle cx="307.43" cy="41.49" r="0.7" fill="#2222ff" opacity="0.85"/>
<circle cx="298.60" cy="40.87" r="0.7" fill="#2222ff" opacity="0.85"/>
<circle cx="290.01" cy="40.25" r="0.7" fill="#2222ff" opacity="0.85"/>
<circle cx="282.95" cy="39.63" r="0.7" fill="#2222ff" opacity="0.85"/>
<circle cx="278.44" cy="39.01" r="0.7" fill="#2222ff" opacity="0.85"/>
<circle cx="277.09" cy="38.39" r="0.7" fill="#2222ff" opacity="0.85"/>
<circle cx="279.02" cy="37.77" r="0.7" fill="#2222ff" opacity="0.85"/>
<circle cx="283.83" cy="37.15" r="0.7" fill="#2222ff" opacity="0.85"/>
<circle cx="290.73" cy="36.53" r="0.7" fill="#2222ff" opacity="0.85"/>
<circle cx="298.60" cy="35.91" r="0.7" fill="#2222ff" opacity="0.85"/>
<circle cx="306.23" cy="35.29" r="0.7" fill="#2222ff" opacity="0.85"/>
<circle cx="312.48" cy="34.67" r="0.7" fill="#2222ff" opacity="0.85"/>
<circle cx="316.45" cy="34.05" r="0.7" fill="#2222ff" opacity="0.85"/>
<circle cx="317.61" cy="33.43" r="0.7" fill="#2222ff" opacity="0.85"/>
<circle cx="315.88" cy="32.81" r="0.7" fill="#2222ff" opacity="0.85"/>
<circle cx="311.60" cy="32.19" r="0.7" fill="#2222ff" opacity="0.85"/>
<circle cx="305.52" cy="31.56" r="0.7" fill="#2222ff" opacity="0.85"/>
<circle cx="298.60" cy="30.94" r="0.7" fill="#2222ff" opacity="0.85"/>
<circle cx="291.92" cy="30.32" r="0.7" fill="#2222ff" opacity="0.85"/>
<circle cx="286.48" cy="29.70" r="0.7" fill="#2222ff" opacity="0.85"/>
<circle cx="283.05" cy="29.08" r="0.7" fill="#2222ff" opacity="0.85"/>
<circle cx="282.08" cy="28.46" r="0.7" fill="#2222ff" opacity="0.85"/>
<circle cx="283.63" cy="27.84" r="0.7" fill="#2222ff" opacity="0.85"/>
<circle cx="287.36" cy="27.22" r="0.7" fill="#2222ff" opacity="0.85"/>
<circle cx="292.64" cy="26.60" r="0.7" fill="#2222ff" opacity="0.85"/>
<circle cx="298.60" cy="25.98" r="0.7" fill="#2222ff" opacity="0.85"/>
<circle cx="304.32" cy="25.36" r="0.7" fill="#2222ff" opacity="0.85"/>
<circle cx="308.95" cy="24.74" r="0.7" fill="#2222ff" opacity="0.85"/>
<circle cx="311.84" cy="24.12" r="0.7" fill="#2222ff" opacity="0.85"/>
<circle cx="312.62" cy="23.50" r="0.7" fill="#2222ff" opacity="0.85"/>
<circle cx="311.26" cy="22.88" r="0.7" fill="#2222ff" opacity="0.85"/>
<circle cx="308.07" cy="22.26" r="0.7" fill="#2222ff" opacity="0.85"/>
<circle cx="303.61" cy="21.64" r="0.7" fill="#2222ff" opacity="0.85"/>
<circle cx="298.60" cy="21.01" r="0.7" fill="#2222ff" opacity="0.85"/>
<circle cx="293.83" cy="20.39" r="0.7" fill="#2222ff" opacity="0.85"/>
<circle cx="290.01" cy="19.77" r="0.7" fill="#2222ff" opacity="0.85"/>
<circle cx="287.67" cy="19.15" r="0.7" fill="#2222ff" opacity="0.85"/>
<circle cx="287.08" cy="18.53" r="0.7" fill="#2222ff" opacity="0.85"/>
<circle cx="288.24" cy="17.91" r="0.7" fill="#2222ff" opacity="0.85"/>
<circle cx="290.89" cy="17.29" r="0.7" fill="#2222ff" opacity="0.85"/>
<circle cx="294.55" cy="16.67" r="0.7" fill="#2222ff" opacity="0.85"/>
<circle cx="298.60" cy="16.05" r="0.7" fill="#2222ff" opacity="0.85"/>
<circle cx="302.41" cy="15.43" r="0.7" fill="#2222ff" opacity="0.85"/>
<circle cx="305.42" cy="14.81" r="0.7" fill="#2222ff" opacity="0.85"/>
<circle cx="307.23" cy="14.19" r="0.7" fill="#2222ff" opacity="0.85"/>
<circle cx="307.62" cy="13.57" r="0.7" fill="#2222ff" opacity="0.85"/>
<circle cx="306.65" cy="12.95" r="0.7" fill="#2222ff" opacity="0.85"/>
<circle cx="304.54" cy="12.33" r="0.7" fill="#2222ff" opacity="0.85"/>
<circle cx="301.70" cy="11.71" r="0.7" fill="#2222ff" opacity="0.85"/>
<circle cx="298.60" cy="11.08" r="0.7" fill="#2222ff" opacity="0.85"/>
<circle cx="295.74" cy="10.46" r="0.7" fill="#2222ff" opacity="0.85"/>
<circle cx="293.54" cy="9.84" r="0.7" fill="#2222ff" opacity="0.85"/>
<circle cx="292.28" cy="9.22" r="0.7" fill="#2222ff" opacity="0.85"/>
<circle cx="292.07" cy="8.60" r="0.7" fill="#2222ff" opacity="0.85"/>
<circle cx="292.86" cy="7.98" r="0.7" fill="#2222ff" opacity="0.85"/>
<circle cx="294.43" cy="7.36" r="0.7" fill="#2222ff" opacity="0.85"/>
<circle cx="296.46" cy="6.74" r="0.7" fill="#2222ff" opacity="0.85"/>
<circle cx="298.60" cy="6.12" r="0.7" fill="#2222ff" opacity="0.85"/>
<circle cx="300.50" cy="5.50" r="0.7" fill="#2222ff" opacity="0.85"/>
<circle cx="301.89" cy="4.88" r="0.7" fill="#2222ff" opacity="0.85"/>
<circle cx="302.61" cy="4.26" r="0.7" fill="#2222ff" opacity="0.85"/>
<circle cx="302.63" cy="3.64" r="0.7" fill="#2222ff" opacity="0.85"/>
<text x="298.6" y="158.2" font-size="13.3" text-anchor="middle">ΔX in px</text>
<line x1="216.2" x2="381.0" y1="304.23" y2="304.23" stroke="#777" stroke-width="0.8"/>
<line x1="216.2" x2="381.0" y1="281.26" y2="281.26" stroke="#777" stroke-width="0.8"/>
<line x1="216.2" x2="381.0" y1="258.29" y2="258.29" stroke="#777" stroke-width="0.8"/>
<line x1="216.2" x2="381.0" y1="235.32" y2="235.32" stroke="#777" stroke-width="0.8"/>
<line x1="216.2" x2="381.0" y1="212.36" y2="212.36" stroke="#777" stroke-width="0.8"/>
<line x1="232.68" x2="232.68" y1="209.6" y2="327.2" stroke="#222" stroke-width="0.6"/>
<line x1="265.64" x2="265.64" y1="209.6" y2="327.2" stroke="#222" stroke-width="0.6"/>
<line x1="298.60" x2="298.60" y1="209.6" y2="327.2" stroke="#222" stroke-width="0.6"/>
<line x1="331.56" x2="331.56" y1="209.6" y2="327.2" stroke="#222" stroke-width="0.6"/>
<line x1="364.52" x2="364.52" y1="209.6" y2="327.2" stroke="#222" stroke-width="0.6"/>
<rect x="216.2" y="209.6" width="164.8" height="117.6" fill="none" stroke="#4a4a4a" stroke-width="1"/>
<text x="211.9" y="331.8" font-size="11.7" text-anchor="end">0</text>
<text x="211.9" y="308.8" font-size="11.7" text-anchor="end">50</text>
<text x="211.9" y="285.8" font-size="11.7" text-anchor="end">100</text>
<text x="211.9" y="262.9" font-size="11.7" text-anchor="end">150</text>
<text x="211.9" y="239.9" font-size="11.7" text-anchor="end">200</text>
<text x="211.9" y="216.9" font-size="11.7" text-anchor="end">250</text>
<text transform="translate(185.6,268.4) rotate(-90)" font-size="13.3" text-anchor="middle">Y in px</text>
<text x="231.1" y="340.4" font-size="11.7" text-anchor="middle">-2</text>
<text x="264.0" y="340.4" font-size="11.7" text-anchor="middle">-1</text>
<text x="298.6" y="340.4" font-size="11.7" text-anchor="middle">0</text>
<text x="331.6" y="340.4" font-size="11.7" text-anchor="middle">1</text>
<text x="364.5" y="340.4" font-size="11.7" text-anchor="middle">2</text>
<line x1="247.51" x2="361.22" y1="326.60" y2="326.60" stroke="#0505ff" stroke-width="1.0" stroke-dasharray="1.2 1.6" opacity="0.8"/>
<path d="M276.88,260.09 L276.19,260.04 L275.53,259.99 L274.88,259.95 L274.26,259.90 L273.67,259.86 L273.10,259.81 L272.56,259.76 L272.04,259.72 L271.55,259.67 L271.09,259.63 L270.65,259.58 L270.25,259.53 L269.87,259.49 L269.52,259.44 L269.20,259.40 L268.91,259.35 L268.64,259.30 L268.41,259.26 L268.21,259.21 L268.04,259.17 L267.89,259.12 L267.78,259.07 L267.70,259.03 L267.65,258.98 L267.63,258.94 L267.63,258.89 L267.67,258.85 L267.74,258.80 L267.84,258.75 L267.97,258.71 L268.13,258.66 L268.32,258.62 L268.54,258.57 L268.78,258.52 L269.06,258.48 L269.36,258.43 L269.70,258.39 L270.06,258.34 L270.44,258.29 L270.86,258.25 L271.30,258.20 L271.77,258.16 L272.26,258.11 L272.77,258.06 L273.32,258.02 L273.88,257.97 L274.47,257.93 L275.08,257.88 L275.72,257.83 L276.37,257.79 L277.05,257.74 L277.74,257.70 L278.46,257.65 L279.19,257.60 L279.94,257.56 L280.71,257.51 L281.49,257.47 L282.29,257.42 L283.11,257.38 L283.94,257.33 L284.78,257.28 L285.63,257.24 L286.50,257.19 L287.37,257.15 L288.26,257.10 M308.33,256.09 L309.18,256.04 L310.03,256.00 L310.86,255.95 L311.68,255.91 L312.49,255.86 L313.28,255.81 L314.05,255.77 L314.81,255.72 L315.55,255.68 L316.27,255.63 L316.98,255.58 L317.67,255.54 L318.33,255.49 L318.98,255.45 L319.60,255.40 L320.20,255.35 L320.79,255.31 L321.34,255.26 L321.88,255.22 L322.39,255.17 L322.88,255.12 L323.34,255.08 L323.78,255.03 L324.19,254.99 L324.58,254.94 L324.94,254.89 L325.27,254.85 L325.58,254.80 L325.86,254.76 L326.12,254.71 L326.34,254.66 L326.54,254.62 L326.71,254.57 L326.86,254.53 L326.97,254.48 L327.06,254.44 L327.12,254.39 L327.15,254.34 L327.16,254.30 L327.13,254.25 L327.08,254.21 L327.00,254.16 L326.89,254.11 L326.76,254.07 L326.60,254.02 L326.41,253.98 L326.19,253.93 L325.95,253.88 L325.68,253.84 L325.38,253.79 L325.06,253.75 L324.72,253.70 L324.35,253.65 L323.95,253.61 L323.53,253.56 L323.09,253.52 L322.62,253.47 L322.13,253.42 L321.62,253.38 L321.09,253.33 L320.53,253.29 L319.96,253.24 L319.37,253.19 L318.75,253.15 L318.12,253.10 L317.47,253.06 L316.80,253.01 L316.12,252.97 L315.42,252.92 L314.70,252.87 L313.97,252.83 L313.23,252.78 L312.47,252.74 L311.70,252.69 L310.92,252.64 L310.13,252.60 L309.33,252.55 L308.52,252.51 L307.70,252.46 L306.87,252.41 L306.04,252.37 L305.20,252.32 L304.36,252.28 M292.50,251.63 L291.68,251.59 L290.87,251.54 L290.07,251.50 L289.28,251.45 L288.50,251.40 L287.73,251.36 L286.97,251.31 L286.22,251.27 L285.49,251.22 L284.78,251.17 L284.07,251.13 L283.39,251.08 L282.72,251.04 L282.06,250.99 L281.42,250.94 L280.81,250.90 L280.21,250.85 L279.62,250.81 L279.06,250.76 L278.52,250.71 L278.00,250.67 L277.50,250.62 L277.02,250.58 L276.57,250.53 L276.13,250.48 L275.72,250.44 L275.33,250.39 L274.97,250.35 L274.63,250.30 L274.31,250.25 L274.02,250.21 L273.75,250.16 L273.51,250.12 L273.29,250.07 L273.10,250.03 L272.93,249.98 L272.79,249.93 L272.67,249.89 L272.58,249.84 L272.51,249.80 L272.47,249.75 L272.46,249.70 L272.47,249.66 L272.51,249.61 L272.57,249.57 L272.66,249.52 L272.77,249.47 L272.91,249.43 L273.07,249.38 L273.26,249.34 L273.47,249.29 L273.71,249.24 L273.97,249.20 L274.25,249.15 L274.56,249.11 L274.89,249.06 L275.24,249.01 L275.61,248.97 L276.01,248.92 L276.43,248.88 L276.87,248.83 L277.32,248.78 L277.80,248.74 L278.30,248.69 L278.82,248.65 L279.35,248.60 L279.91,248.56 L280.48,248.51 L281.07,248.46 L281.67,248.42 L282.29,248.37 L282.92,248.33 L283.57,248.28 L284.23,248.23 L284.90,248.19 L285.59,248.14 L286.29,248.10 L287.00,248.05 L287.72,248.00 L288.44,247.96 L289.18,247.91 L289.92,247.87 L290.67,247.82 L291.43,247.77 L292.19,247.73 L292.96,247.68 L293.73,247.64 L294.51,247.59 L295.29,247.54 L296.06,247.50 L296.84,247.45 M301.50,247.18 L302.27,247.13 L303.03,247.09 L303.79,247.04 L304.53,246.99 L305.27,246.95 L306.01,246.90 L306.73,246.86 L307.45,246.81 L308.15,246.76 L308.85,246.72 L309.53,246.67 L310.20,246.63 L310.86,246.58 L311.50,246.53 L312.13,246.49 L312.75,246.44 L313.35,246.40 L313.94,246.35 L314.51,246.30 L315.06,246.26 L315.60,246.21 L316.12,246.17 L316.62,246.12 L317.10,246.07 L317.56,246.03 L318.00,245.98 L318.43,245.94 L318.83,245.89 L319.21,245.84 L319.57,245.80 L319.91,245.75 L320.23,245.71 L320.53,245.66 L320.80,245.62 L321.05,245.57 L321.28,245.52 L321.49,245.48 L321.68,245.43 L321.84,245.39 L321.98,245.34 L322.09,245.29 L322.18,245.25 L322.25,245.20 L322.30,245.16 L322.32,245.11 L322.32,245.06 L322.30,245.02 L322.25,244.97 L322.18,244.93 L322.09,244.88 L321.97,244.83 L321.83,244.79 L321.67,244.74 L321.49,244.70 L321.28,244.65 L321.05,244.60 L320.81,244.56 L320.54,244.51 L320.25,244.47 L319.93,244.42 L319.60,244.37 L319.25,244.33 L318.88,244.28 L318.49,244.24 L318.08,244.19 L317.66,244.15 L317.21,244.10 L316.75,244.05 L316.27,244.01 L315.78,243.96 L315.27,243.92 L314.74,243.87 L314.20,243.82 L313.64,243.78 L313.08,243.73 L312.50,243.69 L311.90,243.64 L311.30,243.59 L310.68,243.55 L310.05,243.50 L309.42,243.46 L308.77,243.41 L308.11,243.36 L307.45,243.32 L306.78,243.27 L306.11,243.23 L305.42,243.18 L304.74,243.13 L304.04,243.09 L303.35,243.04 L302.65,243.00 L301.95,242.95 L301.24,242.90 L300.54,242.86 L299.83,242.81 L299.13,242.77 L298.42,242.72 L297.72,242.68 L297.02,242.63 L296.33,242.58 L295.63,242.54 L294.94,242.49 L294.26,242.45 L293.58,242.40 L292.91,242.35 L292.25,242.31 L291.59,242.26 L290.94,242.22 L290.30,242.17 L289.67,242.12 L289.05,242.08 L288.44,242.03 L287.85,241.99 L287.26,241.94 L286.68,241.89 L286.12,241.85 L285.58,241.80 L285.04,241.76 L284.52,241.71 L284.02,241.66 L283.53,241.62 L283.06,241.57 L282.60,241.53 L282.16,241.48 L281.74,241.43 L281.33,241.39 L280.94,241.34 L280.57,241.30 L280.22,241.25 L279.89,241.21 L279.58,241.16 L279.28,241.11 L279.01,241.07 L278.75,241.02 L278.52,240.98 L278.30,240.93 L278.11,240.88 L277.94,240.84 L277.78,240.79 L277.65,240.75 L277.54,240.70 L277.45,240.65 L277.38,240.61 L277.33,240.56 L277.30,240.52 L277.29,240.47 L277.31,240.42 L277.34,240.38 L277.40,240.33 L277.47,240.29 L277.57,240.24 L277.69,240.19 L277.82,240.15 L277.98,240.10 L278.16,240.06 L278.35,240.01 L278.57,239.96 L278.80,239.92 L279.06,239.87 L279.33,239.83 L279.62,239.78 L279.93,239.74 L280.25,239.69 L280.60,239.64 L280.96,239.60 L281.33,239.55 L281.72,239.51 L282.13,239.46 L282.56,239.41 L282.99,239.37 L283.45,239.32 L283.91,239.28 L284.39,239.23 L284.88,239.18 L285.39,239.14 L285.90,239.09 L286.43,239.05 L286.97,239.00 L287.52,238.95 L288.07,238.91 L288.64,238.86 L289.22,238.82 L289.80,238.77 L290.39,238.72 L290.99,238.68 L291.59,238.63 L292.20,238.59 L292.81,238.54 L293.43,238.49 L294.05,238.45 L294.67,238.40 L295.30,238.36 L295.93,238.31 L296.56,238.27 L297.18,238.22 L297.81,238.17 L298.44,238.13 L299.07,238.08 L299.70,238.04 L300.32,237.99 L300.94,237.94 L301.55,237.90 L302.17,237.85 L302.77,237.81 L303.37,237.76 L303.97,237.71 L304.56,237.67 L305.14,237.62 L305.71,237.58 L306.28,237.53 L306.83,237.48 L307.38,237.44 L307.91,237.39 L308.44,237.35 L308.96,237.30 L309.46,237.25 L309.95,237.21 L310.43,237.16 L310.90,237.12 L311.35,237.07 L311.79,237.02 L312.22,236.98 L312.63,236.93 L313.03,236.89 L313.41,236.84 L313.78,236.80 L314.13,236.75 L314.46,236.70 L314.78,236.66 L315.08,236.61 L315.36,236.57 L315.63,236.52 L315.88,236.47 L316.12,236.43 L316.33,236.38 L316.53,236.34 L316.71,236.29 L316.87,236.24 L317.01,236.20 L317.13,236.15 L317.24,236.11 L317.33,236.06 L317.40,236.01 L317.45,235.97 L317.48,235.92 L317.49,235.88 L317.48,235.83 L317.46,235.78 L317.42,235.74 L317.36,235.69 L317.28,235.65 L317.18,235.60 L317.07,235.55 L316.93,235.51 L316.78,235.46 L316.62,235.42 L316.43,235.37 L316.23,235.33 L316.01,235.28 L315.77,235.23 L315.52,235.19 L315.26,235.14 L314.97,235.10 L314.67,235.05 L314.36,235.00 L314.03,234.96 L313.69,234.91 L313.33,234.87 L312.97,234.82 L312.58,234.77 L312.19,234.73 L311.78,234.68 L311.36,234.64 L310.93,234.59 L310.49,234.54 L310.04,234.50 L309.57,234.45 L309.10,234.41 L308.62,234.36 L308.13,234.31 L307.63,234.27 L307.13,234.22 L306.62,234.18 L306.10,234.13 L305.58,234.08 L305.05,234.04 L304.51,233.99 L303.97,233.95 L303.43,233.90 L302.88,233.86 L302.33,233.81 L301.78,233.76 L301.23,233.72 L300.68,233.67 L300.12,233.63 L299.57,233.58 L299.01,233.53 L298.46,233.49 L297.91,233.44 L297.36,233.40 L296.82,233.35 L296.27,233.30 L295.73,233.26 L295.20,233.21 L294.67,233.17 L294.15,233.12 L293.63,233.07 L293.11,233.03 L292.61,232.98 L292.11,232.94 L291.62,232.89 L291.14,232.84 L290.66,232.80 L290.20,232.75 L289.74,232.71 L289.30,232.66 L288.86,232.61 L288.44,232.57 L288.02,232.52 L287.62,232.48 L287.23,232.43 L286.86,232.39 L286.49,232.34 L286.14,232.29 L285.80,232.25 L285.47,232.20 L285.16,232.16 L284.87,232.11 L284.58,232.06 L284.31,232.02 L284.06,231.97 L283.82,231.93 L283.60,231.88 L283.39,231.83 L283.20,231.79 L283.02,231.74 L282.86,231.70 L282.71,231.65 L282.58,231.60 L282.47,231.56 L282.37,231.51 L282.29,231.47 L282.22,231.42 L282.18,231.37 L282.14,231.33 L282.13,231.28 L282.13,231.24 L282.14,231.19 L282.18,231.14 L282.22,231.10 L282.29,231.05 L282.37,231.01 L282.46,230.96 L282.57,230.92 L282.70,230.87 L282.84,230.82 L283.00,230.78 L283.17,230.73 L283.36,230.69 L283.56,230.64 L283.77,230.59 L284.00,230.55 L284.24,230.50 L284.50,230.46 L284.77,230.41 L285.05,230.36 L285.34,230.32 L285.65,230.27 L285.96,230.23 L286.29,230.18 L286.63,230.13 L286.98,230.09 L287.34,230.04 L287.72,230.00 L288.10,229.95 L288.49,229.90 L288.88,229.86 L289.29,229.81 L289.71,229.77 L290.13,229.72 L290.56,229.67 L290.99,229.63 L291.44,229.58 L291.88,229.54 L292.34,229.49 L292.79,229.45 L293.25,229.40 L293.72,229.35 L294.19,229.31 L294.66,229.26 L295.13,229.22 L295.61,229.17 L296.09,229.12 L296.57,229.08 L297.05,229.03 L297.52,228.99 L298.00,228.94 L298.48,228.89 L298.96,228.85 L299.43,228.80 L299.90,228.76 L300.37,228.71 L300.84,228.66 L301.30,228.62 L301.76,228.57 L302.21,228.53 L302.66,228.48 L303.11,228.43 L303.54,228.39 L303.97,228.34 L304.40,228.30 L304.82,228.25 L305.23,228.20 L305.63,228.16 L306.02,228.11 L306.41,228.07 L306.78,228.02 L307.15,227.98 L307.51,227.93 L307.86,227.88 L308.20,227.84 L308.52,227.79 L308.84,227.75 L309.14,227.70 L309.44,227.65 L309.72,227.61 L309.99,227.56 L310.25,227.52 L310.50,227.47 L310.73,227.42 L310.95,227.38 L311.16,227.33 L311.35,227.29 L311.53,227.24 L311.70,227.19 L311.86,227.15 L312.00,227.10 L312.13,227.06 L312.24,227.01 L312.34,226.96 L312.43,226.92 L312.50,226.87 L312.56,226.83 L312.61,226.78 L312.64,226.73 L312.66,226.69 L312.66,226.64 L312.65,226.60 L312.63,226.55 L312.59,226.51 L312.54,226.46 L312.47,226.41 L312.39,226.37 L312.30,226.32 L312.20,226.28 L312.08,226.23 L311.95,226.18 L311.81,226.14 L311.65,226.09 L311.48,226.05 L311.30,226.00 L311.11,225.95 L310.91,225.91 L310.69,225.86 L310.47,225.82 L310.23,225.77 L309.98,225.72 L309.73,225.68 L309.46,225.63 L309.18,225.59 L308.89,225.54 L308.60,225.49 L308.29,225.45 L307.98,225.40 L307.66,225.36 L307.33,225.31 L307.00,225.26 L306.65,225.22 L306.30,225.17 L305.95,225.13 L305.58,225.08 L305.22,225.04 L304.84,224.99 L304.47,224.94 L304.08,224.90 L303.70,224.85 L303.31,224.81 L302.92,224.76 L302.52,224.71 L302.12,224.67 L301.72,224.62 L301.32,224.58 L300.92,224.53 L300.51,224.48 L300.11,224.44 L299.71,224.39 L299.30,224.35 L298.90,224.30 L298.50,224.25 L298.10,224.21 L297.70,224.16 L297.31,224.12 L296.91,224.07 L296.52,224.02 L296.14,223.98 L295.76,223.93 L295.38,223.89 L295.01,223.84 L294.64,223.79 L294.27,223.75 L293.92,223.70 L293.56,223.66 L293.22,223.61 L292.88,223.57 L292.55,223.52 L292.23,223.47 L291.91,223.43 L291.60,223.38 L291.30,223.34 L291.01,223.29 L290.72,223.24 L290.45,223.20 L290.18,223.15 L289.92,223.11 L289.68,223.06 L289.44,223.01 L289.21,222.97 L288.99,222.92 L288.79,222.88 L288.59,222.83 L288.40,222.78 L288.23,222.74 L288.06,222.69 L287.91,222.65 L287.77,222.60 L287.64,222.55 L287.52,222.51 L287.41,222.46 L287.31,222.42 L287.23,222.37 L287.15,222.32 L287.09,222.28 L287.04,222.23 L287.00,222.19 L286.97,222.14 L286.96,222.10 L286.95,222.05 L286.96,222.00 L286.98,221.96 L287.01,221.91 L287.05,221.87 L287.10,221.82 L287.17,221.77 L287.24,221.73 L287.32,221.68 L287.42,221.64 L287.53,221.59 L287.64,221.54 L287.77,221.50 L287.91,221.45 L288.06,221.41 L288.21,221.36 L288.38,221.31 L288.56,221.27 L288.74,221.22 L288.93,221.18 L289.14,221.13 L289.35,221.08 L289.57,221.04 L289.79,220.99 L290.03,220.95 L290.27,220.90 L290.52,220.85 L290.78,220.81 L291.04,220.76 L291.31,220.72 L291.59,220.67 L291.87,220.63 L292.15,220.58 L292.44,220.53 L292.74,220.49 L293.04,220.44 L293.35,220.40 L293.65,220.35 L293.97,220.30 L294.28,220.26 L294.60,220.21 L294.92,220.17 L295.24,220.12 L295.57,220.07 L295.89,220.03 L296.22,219.98 L296.55,219.94 L296.88,219.89 L297.21,219.84 L297.54,219.80 L297.86,219.75 L298.19,219.71 L298.52,219.66 L298.84,219.61 L299.17,219.57 L299.49,219.52 L299.81,219.48 L300.12,219.43 L300.44,219.38 L300.75,219.34 L301.05,219.29 L301.36,219.25 L301.65,219.20 L301.95,219.16 L302.24,219.11 L302.52,219.06 L302.80,219.02 L303.07,218.97 L303.34,218.93 L303.60,218.88 L303.86,218.83 L304.11,218.79 L304.35,218.74 L304.59,218.70 L304.82,218.65 L305.04,218.60 L305.25,218.56 L305.46,218.51 L305.66,218.47 L305.85,218.42 L306.03,218.37 L306.21,218.33 L306.37,218.28 L306.53,218.24 L306.68,218.19 L306.82,218.14 L306.95,218.10 L307.07,218.05 L307.19,218.01 L307.29,217.96 L307.39,217.91 L307.47,217.87 L307.55,217.82 L307.62,217.78 L307.68,217.73 L307.73,217.69 L307.77,217.64 L307.80,217.59 L307.82,217.55 L307.83,217.50 L307.83,217.46 L307.83,217.41 L307.81,217.36 L307.79,217.32 L307.76,217.27 L307.71,217.23 L307.66,217.18 L307.60,217.13 L307.54,217.09 L307.46,217.04 L307.38,217.00 L307.28,216.95 L307.18,216.90 L307.07,216.86 L306.96,216.81 L306.83,216.77 L306.70,216.72 L306.56,216.67 L306.41,216.63 L306.26,216.58 L306.10,216.54 L305.93,216.49 L305.76,216.44 L305.58,216.40 L305.40,216.35 L305.21,216.31 L305.01,216.26 L304.81,216.22 L304.60,216.17 L304.39,216.12 L304.17,216.08 L303.95,216.03 L303.73,215.99 L303.50,215.94 L303.27,215.89 L303.04,215.85 L302.80,215.80 L302.56,215.76 L302.31,215.71 L302.07,215.66 L301.82,215.62 L301.57,215.57 L301.32,215.53 L301.07,215.48 L300.82,215.43 L300.56,215.39 L300.31,215.34 L300.05,215.30 L299.80,215.25 L299.55,215.20 L299.29,215.16 L299.04,215.11 L298.79,215.07 L298.54,215.02 L298.29,214.97 L298.04,214.93 L297.80,214.88 L297.55,214.84 L297.31,214.79 L297.08,214.75 L296.84,214.70 L296.61,214.65 L296.38,214.61 L296.16,214.56 L295.94,214.52 L295.72,214.47 L295.51,214.42 L295.30,214.38 L295.10,214.33 L294.90,214.29 L294.71,214.24 L294.52,214.19 L294.34,214.15 L294.16,214.10 L293.99,214.06 L293.82,214.01 L293.66,213.96 L293.51,213.92 L293.36,213.87 L293.21,213.83 L293.08,213.78 L292.95,213.73 L292.83,213.69 L292.71,213.64 L292.60,213.60 L292.50,213.55 L292.40,213.50 L292.31,213.46 L292.23,213.41 L292.15,213.37 L292.08,213.32 L292.02,213.28 L291.96,213.23 L291.92,213.18 L291.87,213.14 L291.84,213.09 L291.81,213.05 L291.79,213.00 L291.78,212.95 L291.77,212.91 L291.77,212.86 L291.78,212.82 L291.79,212.77 L291.82,212.72 L291.84,212.68 L291.88,212.63 L291.92,212.59 L291.96,212.54 L292.02,212.49 L292.08,212.45 L292.14,212.40 L292.21,212.36 L292.27,212.31 L292.33,212.26 L292.39,212.22 L292.47,212.17 L292.54,212.13 L292.63,212.08 L292.72,212.03 L292.82,211.99 L292.92,211.94 L293.02,211.90 L293.14,211.85 L293.25,211.81 L293.38,211.76 L293.51,211.71 L293.64,211.67 L293.78,211.62 L293.92,211.58 L294.07,211.53 L294.22,211.48 L294.38,211.44 L294.54,211.39 L294.70,211.35 L294.87,211.30 L295.04,211.25 L295.22,211.21 L295.39,211.16 L295.58,211.12 L295.76,211.07 L295.95,211.02 L296.14,210.98 L296.33,210.93 L296.52,210.89 L296.72,210.84 L296.92,210.79 L297.12,210.75 L297.32,210.70 L297.52,210.66 L297.73,210.61 L297.93,210.56 L298.14,210.52 L298.34,210.47 L298.55,210.43 L298.75,210.38 L298.96,210.34 L299.17,210.29 L299.37,210.24 L299.58,210.20 L299.78,210.15 L299.98,210.11 L300.18,210.06 L300.38,210.01 L300.58,209.97 L300.77,209.92 L300.97,209.88 L301.16,209.83" fill="none" stroke="#0505ff" stroke-width="1.65" stroke-linejoin="round" stroke-linecap="round"/>
<path d="M335.37,326.69 L333.61,326.65 L331.82,326.60 L329.99,326.56 L328.13,326.51 L326.25,326.46 L324.34,326.42 L322.41,326.37 L320.46,326.33 L318.48,326.28 L316.49,326.24 L314.48,326.19 L312.46,326.14 L310.43,326.10 L308.39,326.05 L306.33,326.01 L304.27,325.96 L302.21,325.91 L300.15,325.87 L298.08,325.82 L296.02,325.78 L293.96,325.73 L291.91,325.68 L289.87,325.64 L287.83,325.59 L285.81,325.55 L283.80,325.50 L281.81,325.45 L279.84,325.41 L277.88,325.36 L275.95,325.32 L274.04,325.27 L272.16,325.22 L270.30,325.18 L268.47,325.13 L266.67,325.09 L264.91,325.04 L263.18,325.00 L261.48,324.95" fill="none" stroke="#0505ff" stroke-width="1.2" stroke-dasharray="4.9 3.6" stroke-dashoffset="3.9" opacity="0.9"/>
<path d="M264.01,322.06 L265.72,322.01 L267.47,321.96 L269.24,321.92 L271.04,321.87 L272.87,321.83 L274.72,321.78 L276.60,321.73 L278.49,321.69 L280.40,321.64 L282.33,321.60 L284.27,321.55 L286.22,321.50 L288.19,321.46 L290.16,321.41 L292.14,321.37 L294.13,321.32 L296.11,321.27 L298.10,321.23 L300.09,321.18 L302.08,321.14 L304.06,321.09 L306.03,321.04 L307.99,321.00 L309.95,320.95 L311.89,320.91 L313.82,320.86 L315.73,320.81 L317.62,320.77 L319.49,320.72 L321.34,320.68 L323.17,320.63 L324.97,320.58 L326.74,320.54 L328.49,320.49 L330.20,320.45 L331.89,320.40 L333.54,320.36 L335.15,320.31" fill="none" stroke="#0505ff" stroke-width="1.2" stroke-dasharray="4.5 4.2" stroke-dashoffset="2.2" opacity="0.9"/>
<path d="M332.70,317.46 L331.06,317.42 L329.40,317.37 L327.70,317.32 L325.98,317.28 L324.24,317.23 L322.47,317.19 L320.68,317.14 L318.86,317.09 L317.03,317.05 L315.19,317.00 L313.32,316.96 L311.45,316.91 L309.56,316.86 L307.67,316.82 L305.77,316.77 L303.86,316.73 L301.95,316.68 L300.03,316.63 L298.12,316.59 L296.21,316.54 L294.30,316.50 L292.40,316.45 L290.51,316.40 L288.62,316.36 L286.75,316.31 L284.89,316.27 L283.04,316.22 L281.22,316.17 L279.40,316.13 L277.61,316.08 L275.85,316.04 L274.10,315.99 L272.38,315.95 L270.69,315.90 L269.03,315.85 L267.39,315.81 L265.79,315.76 L264.22,315.72" fill="none" stroke="#0505ff" stroke-width="1.2" stroke-dasharray="4.5 4.1" stroke-dashoffset="0.2" opacity="0.9"/>
<path d="M266.62,312.82 L268.21,312.78 L269.82,312.73 L271.46,312.68 L273.13,312.64 L274.82,312.59 L276.53,312.55 L278.26,312.50 L280.01,312.45 L281.78,312.41 L283.56,312.36 L285.35,312.32 L287.16,312.27 L288.98,312.22 L290.80,312.18 L292.63,312.13 L294.47,312.09 L296.30,312.04 L298.14,311.99 L299.98,311.95 L301.81,311.90 L303.64,311.86 L305.46,311.81 L307.28,311.76 L309.08,311.72 L310.88,311.67 L312.66,311.63 L314.42,311.58 L316.17,311.54 L317.90,311.49 L319.60,311.44 L321.29,311.40 L322.95,311.35 L324.59,311.31 L326.20,311.26 L327.79,311.21 L329.34,311.17 L330.86,311.12 L332.35,311.08" fill="none" stroke="#0505ff" stroke-width="1.2" stroke-dasharray="5.1 3.5" stroke-dashoffset="0.5" opacity="0.9"/>
<path d="M330.02,308.23 L328.51,308.18 L326.98,308.14 L325.42,308.09 L323.83,308.04 L322.22,308.00 L320.59,307.95 L318.94,307.91 L317.27,307.86 L315.58,307.81 L313.88,307.77 L312.16,307.72 L310.44,307.68 L308.70,307.63 L306.95,307.58 L305.20,307.54 L303.44,307.49 L301.68,307.45 L299.92,307.40 L298.16,307.35 L296.40,307.31 L294.64,307.26 L292.89,307.22 L291.15,307.17 L289.41,307.13 L287.69,307.08 L285.98,307.03 L284.28,306.99 L282.59,306.94 L280.93,306.90 L279.28,306.85 L277.65,306.80 L276.05,306.76 L274.47,306.71 L272.91,306.67 L271.38,306.62 L269.88,306.57 L268.40,306.53 L266.96,306.48" fill="none" stroke="#0505ff" stroke-width="1.2" stroke-dasharray="5.1 4.6" stroke-dashoffset="0.7" opacity="0.9"/>
<path d="M269.23,303.59 L270.69,303.54 L272.17,303.50 L273.68,303.45 L275.21,303.40 L276.76,303.36 L278.34,303.31 L279.93,303.27 L281.53,303.22 L283.16,303.17 L284.79,303.13 L286.44,303.08 L288.10,303.04 L289.77,302.99 L291.44,302.94 L293.12,302.90 L294.81,302.85 L296.49,302.81 L298.18,302.76 L299.86,302.72 L301.55,302.67 L303.23,302.62 L304.90,302.58 L306.56,302.53 L308.22,302.49 L309.86,302.44 L311.49,302.39 L313.11,302.35 L314.72,302.30 L316.30,302.26 L317.87,302.21 L319.41,302.16 L320.94,302.12 L322.44,302.07 L323.92,302.03 L325.37,301.98 L326.79,301.93 L328.19,301.89 L329.55,301.84" fill="none" stroke="#0505ff" stroke-width="1.2" stroke-dasharray="4.8 4.3" stroke-dashoffset="5.7" opacity="0.9"/>
<path d="M327.35,298.99 L325.97,298.95 L324.56,298.90 L323.13,298.86 L321.68,298.81 L320.21,298.76 L318.71,298.72 L317.20,298.67 L315.67,298.63 L314.13,298.58 L312.57,298.53 L311.00,298.49 L309.42,298.44 L307.84,298.40 L306.24,298.35 L304.64,298.31 L303.03,298.26 L301.42,298.21 L299.81,298.17 L298.20,298.12 L296.59,298.08 L294.98,298.03 L293.38,297.98 L291.79,297.94 L290.20,297.89 L288.63,297.85 L287.06,297.80 L285.51,297.75 L283.97,297.71 L282.45,297.66 L280.95,297.62 L279.46,297.57 L277.99,297.52 L276.55,297.48 L275.13,297.43 L273.73,297.39 L272.36,297.34 L271.01,297.29 L269.70,297.25" fill="none" stroke="#0505ff" stroke-width="1.2" stroke-dasharray="5.3 4.0" stroke-dashoffset="5.9" opacity="0.9"/>
<path d="M271.85,294.35 L273.17,294.31 L274.53,294.26 L275.90,294.22 L277.30,294.17 L278.71,294.12 L280.14,294.08 L281.59,294.03 L283.06,293.99 L284.54,293.94 L286.03,293.90 L287.53,293.85 L289.04,293.80 L290.56,293.76 L292.08,293.71 L293.61,293.67 L295.15,293.62 L296.68,293.57 L298.22,293.53 L299.75,293.48 L301.28,293.44 L302.81,293.39 L304.33,293.34 L305.85,293.30 L307.35,293.25 L308.85,293.21 L310.33,293.16 L311.81,293.11 L313.26,293.07 L314.71,293.02 L316.13,292.98 L317.54,292.93 L318.92,292.88 L320.29,292.84 L321.63,292.79 L322.95,292.75 L324.24,292.70 L325.51,292.65 L326.75,292.61" fill="none" stroke="#0505ff" stroke-width="1.2" stroke-dasharray="4.5 4.6" stroke-dashoffset="1.7" opacity="0.9"/>
<path d="M324.67,289.76 L323.42,289.72 L322.14,289.67 L320.85,289.62 L319.53,289.58 L318.19,289.53 L316.84,289.49 L315.47,289.44 L314.08,289.39 L312.68,289.35 L311.27,289.30 L309.84,289.26 L308.41,289.21 L306.97,289.16 L305.52,289.12 L304.07,289.07 L302.61,289.03 L301.15,288.98 L299.69,288.93 L298.24,288.89 L296.78,288.84 L295.32,288.80 L293.87,288.75 L292.43,288.70 L290.99,288.66 L289.57,288.61 L288.15,288.57 L286.74,288.52 L285.35,288.47 L283.97,288.43 L282.61,288.38 L281.27,288.34 L279.94,288.29 L278.63,288.25 L277.35,288.20 L276.08,288.15 L274.84,288.11 L273.63,288.06 L272.44,288.02" fill="none" stroke="#0505ff" stroke-width="1.2" stroke-dasharray="4.6 3.6" stroke-dashoffset="1.9" opacity="0.9"/>
<path d="M274.46,285.12 L275.66,285.08 L276.88,285.03 L278.12,284.98 L279.38,284.94 L280.66,284.89 L281.95,284.85 L283.26,284.80 L284.58,284.75 L285.91,284.71 L287.26,284.66 L288.61,284.62 L289.98,284.57 L291.35,284.52 L292.72,284.48 L294.10,284.43 L295.49,284.39 L296.87,284.34 L298.25,284.29 L299.64,284.25 L301.02,284.20 L302.39,284.16 L303.77,284.11 L305.13,284.06 L306.49,284.02 L307.84,283.97 L309.17,283.93 L310.50,283.88 L311.81,283.84 L313.11,283.79 L314.39,283.74 L315.66,283.70 L316.91,283.65 L318.14,283.61 L319.34,283.56 L320.53,283.51 L321.69,283.47 L322.83,283.42 L323.95,283.38" fill="none" stroke="#0505ff" stroke-width="1.2" stroke-dasharray="5.7 3.7" stroke-dashoffset="3.5" opacity="0.9"/>
<path d="M322.00,280.53 L320.87,280.48 L319.73,280.44 L318.56,280.39 L317.38,280.34 L316.18,280.30 L314.96,280.25 L313.73,280.21 L312.48,280.16 L311.23,280.11 L309.96,280.07 L308.68,280.02 L307.40,279.98 L306.11,279.93 L304.81,279.88 L303.50,279.84 L302.20,279.79 L300.89,279.75 L299.58,279.70 L298.27,279.65 L296.97,279.61 L295.66,279.56 L294.36,279.52 L293.07,279.47 L291.78,279.43 L290.51,279.38 L289.24,279.33 L287.98,279.29 L286.73,279.24 L285.50,279.20 L284.28,279.15 L283.07,279.10 L281.89,279.06 L280.72,279.01 L279.57,278.97 L278.44,278.92 L277.33,278.87 L276.24,278.83 L275.17,278.78" fill="none" stroke="#0505ff" stroke-width="1.2" stroke-dasharray="5.4 3.9" stroke-dashoffset="3.3" opacity="0.9"/>
<path d="M277.07,275.89 L278.14,275.84 L279.23,275.80 L280.34,275.75 L281.46,275.70 L282.60,275.66 L283.76,275.61 L284.92,275.57 L286.10,275.52 L287.29,275.47 L288.49,275.43 L289.70,275.38 L290.92,275.34 L292.14,275.29 L293.36,275.24 L294.59,275.20 L295.83,275.15 L297.06,275.11 L298.29,275.06 L299.52,275.02 L300.75,274.97 L301.98,274.92 L303.20,274.88 L304.42,274.83 L305.62,274.79 L306.82,274.74 L308.01,274.69 L309.19,274.65 L310.36,274.60 L311.52,274.56 L312.66,274.51 L313.78,274.46 L314.89,274.42 L315.98,274.37 L317.06,274.33 L318.11,274.28 L319.15,274.23 L320.16,274.19 L321.15,274.14" fill="none" stroke="#0505ff" stroke-width="1.2" stroke-dasharray="4.5 3.5" stroke-dashoffset="1.2" opacity="0.9"/>
<path d="M319.32,271.29 L318.32,271.25 L317.31,271.20 L316.27,271.16 L315.22,271.11 L314.16,271.06 L313.08,271.02 L311.99,270.97 L310.89,270.93 L309.78,270.88 L308.65,270.83 L307.52,270.79 L306.39,270.74 L305.24,270.70 L304.09,270.65 L302.94,270.61 L301.78,270.56 L300.63,270.51 L299.47,270.47 L298.31,270.42 L297.16,270.38 L296.00,270.33 L294.85,270.28 L293.71,270.24 L292.57,270.19 L291.44,270.15 L290.32,270.10 L289.21,270.05 L288.11,270.01 L287.02,269.96 L285.94,269.92 L284.88,269.87 L283.83,269.82 L282.80,269.78 L281.79,269.73 L280.79,269.69 L279.81,269.64 L278.85,269.59 L277.91,269.55" fill="none" stroke="#0505ff" stroke-width="1.2" stroke-dasharray="5.5 4.0" stroke-dashoffset="1.9" opacity="0.9"/>
<path d="M279.68,266.65 L280.62,266.61 L281.58,266.56 L282.56,266.52 L283.55,266.47 L284.55,266.42 L285.56,266.38 L286.59,266.33 L287.63,266.29 L288.67,266.24 L289.73,266.20 L290.79,266.15 L291.86,266.10 L292.93,266.06 L294.00,266.01 L295.08,265.97 L296.17,265.92 L297.25,265.87 L298.33,265.83 L299.41,265.78 L300.49,265.74 L301.56,265.69 L302.64,265.64 L303.70,265.60 L304.76,265.55 L305.81,265.51 L306.85,265.46 L307.89,265.41 L308.91,265.37 L309.92,265.32 L310.92,265.28 L311.91,265.23 L312.88,265.18 L313.83,265.14 L314.77,265.09 L315.69,265.05 L316.60,265.00 L317.48,264.95 L318.35,264.91" fill="none" stroke="#0505ff" stroke-width="1.2" stroke-dasharray="5.3 4.0" stroke-dashoffset="1.8" opacity="0.9"/>
<path d="M316.65,262.06 L315.78,262.01 L314.89,261.97 L313.99,261.92 L313.07,261.88 L312.15,261.83 L311.21,261.79 L310.26,261.74 L309.29,261.69 L308.33,261.65 L307.35,261.60 L306.36,261.56 L305.37,261.51 L304.38,261.46 L303.38,261.42 L302.37,261.37 L301.37,261.33 L300.36,261.28 L299.35,261.23 L298.35,261.19 L297.34,261.14 L296.34,261.10 L295.34,261.05 L294.35,261.00 L293.36,260.96 L292.38,260.91 L291.41,260.87 L290.44,260.82 L289.49,260.77 L288.54,260.73 L287.61,260.68 L286.69,260.64 L285.78,260.59 L284.88,260.54 L284.00,260.50 L283.14,260.45 L282.29,260.41 L281.46,260.36 L280.65,260.32" fill="none" stroke="#0505ff" stroke-width="1.2" stroke-dasharray="5.7 4.4" stroke-dashoffset="1.5" opacity="0.9"/>
<path d="M288.26,257.10 L289.15,257.05 L290.05,257.01 L290.96,256.96 L291.87,256.92 L292.79,256.87 L293.72,256.82 L294.64,256.78 L295.57,256.73 L296.51,256.69 L297.44,256.64 L298.37,256.59 L299.30,256.55 L300.22,256.50 L301.15,256.46 L302.07,256.41 L302.99,256.36 L303.90,256.32 L304.80,256.27 L305.69,256.23 L306.58,256.18 L307.46,256.13 L308.33,256.09" fill="none" stroke="#0505ff" stroke-width="1.2" stroke-dasharray="5.3 4.1" stroke-dashoffset="5.3" opacity="0.9"/>
<path d="M304.36,252.28 L303.51,252.23 L302.66,252.18 L301.81,252.14 L300.95,252.09 L300.10,252.05 L299.24,252.00 L298.39,251.95 L297.53,251.91 L296.68,251.86 L295.84,251.82 L294.99,251.77 L294.15,251.72 L293.32,251.68 L292.50,251.63" fill="none" stroke="#0505ff" stroke-width="1.2" stroke-dasharray="5.6 3.8" stroke-dashoffset="5.9" opacity="0.9"/>
<path d="M296.84,247.45 L297.63,247.41 L298.41,247.36 L299.18,247.31 L299.96,247.27 L300.73,247.22 L301.50,247.18" fill="none" stroke="#0505ff" stroke-width="1.2" stroke-dasharray="4.6 4.0" stroke-dashoffset="4.5" opacity="0.9"/>
<polygon points="268.14,322.59 266.45,322.41 264.77,322.46 263.09,322.19 261.41,322.08 259.73,322.07 258.05,321.95 256.37,322.20 254.68,322.11 253.00,322.19 251.32,322.24 249.64,322.33 247.96,322.27 246.28,322.30 244.60,322.48 242.91,322.49 241.23,322.69 239.55,322.62 237.87,322.71 236.19,322.75 234.51,322.88 232.83,323.06 231.14,323.30 231.14,323.75 232.83,323.99 234.51,324.17 236.19,324.30 237.87,324.34 239.55,324.43 241.23,324.36 242.91,324.56 244.60,324.57 246.28,324.75 247.96,324.78 249.64,324.72 251.32,324.81 253.00,324.86 254.68,324.94 256.37,324.85 258.05,325.10 259.73,324.98 261.41,324.97 263.09,324.86 264.77,324.59 266.45,324.64 268.14,324.46" fill="#0505ff"/>
<line x1="272.67" y1="321.97" x2="259.71" y2="322.82" stroke="#0505ff" stroke-width="0.8" opacity="0.55"/>
<line x1="272.67" y1="325.07" x2="259.71" y2="324.22" stroke="#0505ff" stroke-width="0.8" opacity="0.55"/>
<polygon points="327.93,317.85 329.40,317.92 330.88,317.72 332.35,317.73 333.82,317.68 335.30,317.64 336.77,317.37 338.24,317.64 339.72,317.64 341.19,317.64 342.66,317.53 344.14,317.82 345.61,317.76 347.08,317.79 348.56,317.76 350.03,317.84 351.50,317.90 352.98,318.09 354.45,318.13 355.92,318.22 357.40,318.26 358.87,318.39 360.34,318.69 360.34,319.13 358.87,319.43 357.40,319.56 355.92,319.59 354.45,319.68 352.98,319.73 351.50,319.92 350.03,319.97 348.56,320.06 347.08,320.03 345.61,320.05 344.14,319.99 342.66,320.28 341.19,320.18 339.72,320.17 338.24,320.17 336.77,320.44 335.30,320.18 333.82,320.14 332.35,320.09 330.88,320.10 329.40,319.89 327.93,319.97" fill="#0505ff"/>
<line x1="323.56" y1="317.36" x2="336.04" y2="318.21" stroke="#0505ff" stroke-width="0.8" opacity="0.55"/>
<line x1="323.56" y1="320.46" x2="336.04" y2="319.61" stroke="#0505ff" stroke-width="0.8" opacity="0.55"/>
<polygon points="270.41,313.35 268.84,313.25 267.28,313.17 265.71,313.01 264.15,312.90 262.58,312.95 261.02,313.04 259.45,312.93 257.89,312.99 256.32,312.96 254.76,312.89 253.19,313.02 251.63,313.13 250.06,313.15 248.50,313.20 246.93,313.40 245.37,313.28 243.80,313.38 242.24,313.44 240.67,313.54 239.11,313.70 237.55,313.81 235.98,314.07 235.98,314.51 237.55,314.77 239.11,314.89 240.67,315.04 242.24,315.14 243.80,315.21 245.37,315.31 246.93,315.18 248.50,315.39 250.06,315.43 251.63,315.46 253.19,315.56 254.76,315.69 256.32,315.62 257.89,315.60 259.45,315.66 261.02,315.55 262.58,315.63 264.15,315.68 265.71,315.57 267.28,315.41 268.84,315.33 270.41,315.23" fill="#0505ff"/>
<line x1="274.61" y1="312.74" x2="262.61" y2="313.59" stroke="#0505ff" stroke-width="0.8" opacity="0.55"/>
<line x1="274.61" y1="315.84" x2="262.61" y2="314.99" stroke="#0505ff" stroke-width="0.8" opacity="0.55"/>
<polygon points="325.66,308.63 327.01,308.68 328.37,308.60 329.73,308.48 331.08,308.43 332.44,308.31 333.80,308.40 335.15,308.46 336.51,308.44 337.87,308.50 339.22,308.46 340.58,308.61 341.94,308.41 343.29,308.54 344.65,308.71 346.01,308.74 347.36,308.78 348.72,308.84 350.08,308.95 351.44,308.92 352.79,309.01 354.15,309.19 355.51,309.45 355.51,309.89 354.15,310.16 352.79,310.34 351.44,310.43 350.08,310.40 348.72,310.51 347.36,310.57 346.01,310.61 344.65,310.64 343.29,310.81 341.94,310.94 340.58,310.74 339.22,310.89 337.87,310.85 336.51,310.91 335.15,310.89 333.80,310.95 332.44,311.04 331.08,310.92 329.73,310.87 328.37,310.75 327.01,310.67 325.66,310.72" fill="#0505ff"/>
<line x1="321.63" y1="308.12" x2="333.14" y2="308.97" stroke="#0505ff" stroke-width="0.8" opacity="0.55"/>
<line x1="321.63" y1="311.22" x2="333.14" y2="310.37" stroke="#0505ff" stroke-width="0.8" opacity="0.55"/>
<polygon points="272.68,304.14 271.23,304.05 269.78,303.90 268.34,303.85 266.89,303.59 265.44,303.75 263.99,303.80 262.54,303.50 261.09,303.70 259.65,303.87 258.20,303.79 256.75,303.99 255.30,303.89 253.85,303.82 252.40,303.92 250.96,304.02 249.51,304.18 248.06,304.22 246.61,304.33 245.16,304.31 243.71,304.45 242.26,304.55 240.82,304.84 240.82,305.28 242.26,305.57 243.71,305.67 245.16,305.80 246.61,305.79 248.06,305.89 249.51,305.94 250.96,306.10 252.40,306.20 253.85,306.29 255.30,306.23 256.75,306.13 258.20,306.33 259.65,306.25 261.09,306.42 262.54,306.61 263.99,306.32 265.44,306.36 266.89,306.53 268.34,306.27 269.78,306.21 271.23,306.06 272.68,305.98" fill="#0505ff"/>
<line x1="276.54" y1="303.51" x2="265.51" y2="304.36" stroke="#0505ff" stroke-width="0.8" opacity="0.55"/>
<line x1="276.54" y1="306.61" x2="265.51" y2="305.76" stroke="#0505ff" stroke-width="0.8" opacity="0.55"/>
<polygon points="323.38,299.49 324.62,299.24 325.86,299.10 327.10,299.04 328.34,298.98 329.58,298.90 330.82,298.92 332.06,299.14 333.30,299.08 334.55,299.18 335.79,299.33 337.03,299.37 338.27,299.34 339.51,299.40 340.75,299.34 341.99,299.34 343.23,299.52 344.47,299.50 345.71,299.57 346.95,299.67 348.19,299.85 349.43,299.98 350.67,300.22 350.67,300.66 349.43,300.90 348.19,301.03 346.95,301.21 345.71,301.31 344.47,301.39 343.23,301.36 341.99,301.54 340.75,301.54 339.51,301.48 338.27,301.54 337.03,301.51 335.79,301.55 334.55,301.70 333.30,301.80 332.06,301.74 330.82,301.97 329.58,301.98 328.34,301.91 327.10,301.84 325.86,301.79 324.62,301.64 323.38,301.39" fill="#0505ff"/>
<line x1="319.69" y1="298.89" x2="330.24" y2="299.74" stroke="#0505ff" stroke-width="0.8" opacity="0.55"/>
<line x1="319.69" y1="301.99" x2="330.24" y2="301.14" stroke="#0505ff" stroke-width="0.8" opacity="0.55"/>
<polygon points="274.95,294.88 273.62,294.79 272.29,294.59 270.96,294.41 269.63,294.35 268.29,294.41 266.96,294.33 265.63,294.32 264.30,294.61 262.97,294.47 261.64,294.44 260.30,294.53 258.97,294.59 257.64,294.72 256.31,294.85 254.98,294.77 253.64,294.93 252.31,294.90 250.98,294.96 249.65,295.14 248.32,295.23 246.98,295.30 245.65,295.60 245.65,296.04 246.98,296.35 248.32,296.42 249.65,296.51 250.98,296.69 252.31,296.74 253.64,296.72 254.98,296.88 256.31,296.80 257.64,296.93 258.97,297.06 260.30,297.12 261.64,297.21 262.97,297.18 264.30,297.03 265.63,297.32 266.96,297.32 268.29,297.24 269.63,297.30 270.96,297.24 272.29,297.06 273.62,296.86 274.95,296.77" fill="#0505ff"/>
<line x1="278.48" y1="294.27" x2="268.41" y2="295.12" stroke="#0505ff" stroke-width="0.8" opacity="0.55"/>
<line x1="278.48" y1="297.37" x2="268.41" y2="296.52" stroke="#0505ff" stroke-width="0.8" opacity="0.55"/>
<polygon points="321.11,290.27 322.23,290.19 323.36,290.11 324.48,289.79 325.60,289.74 326.73,289.91 327.85,289.65 328.98,289.64 330.10,289.80 331.22,289.95 332.35,289.93 333.47,290.11 334.60,290.19 335.72,289.98 336.84,290.12 337.97,290.21 339.09,290.19 340.21,290.36 341.34,290.36 342.46,290.46 343.59,290.63 344.71,290.74 345.83,290.99 345.83,291.43 344.71,291.67 343.59,291.78 342.46,291.96 341.34,292.06 340.21,292.06 339.09,292.23 337.97,292.21 336.84,292.30 335.72,292.44 334.60,292.23 333.47,292.31 332.35,292.48 331.22,292.46 330.10,292.61 328.98,292.77 327.85,292.76 326.73,292.51 325.60,292.67 324.48,292.62 323.36,292.31 322.23,292.22 321.11,292.15" fill="#0505ff"/>
<line x1="317.76" y1="289.66" x2="327.34" y2="290.51" stroke="#0505ff" stroke-width="0.8" opacity="0.55"/>
<line x1="317.76" y1="292.76" x2="327.34" y2="291.91" stroke="#0505ff" stroke-width="0.8" opacity="0.55"/>
<polygon points="277.23,285.64 276.01,285.46 274.80,285.46 273.58,285.33 272.37,285.36 271.15,285.02 269.93,285.21 268.72,285.21 267.50,285.21 266.29,285.15 265.07,285.36 263.86,285.26 262.64,285.43 261.43,285.48 260.21,285.53 259.00,285.71 257.78,285.67 256.57,285.79 255.35,285.89 254.14,285.84 252.92,286.02 251.70,286.11 250.49,286.37 250.49,286.81 251.70,287.07 252.92,287.16 254.14,287.34 255.35,287.29 256.57,287.39 257.78,287.51 259.00,287.47 260.21,287.65 261.43,287.71 262.64,287.75 263.86,287.93 265.07,287.83 266.29,288.03 267.50,287.97 268.72,287.97 269.93,287.97 271.15,288.17 272.37,287.82 273.58,287.85 274.80,287.72 276.01,287.73 277.23,287.55" fill="#0505ff"/>
<line x1="280.41" y1="285.04" x2="271.32" y2="285.89" stroke="#0505ff" stroke-width="0.8" opacity="0.55"/>
<line x1="280.41" y1="288.14" x2="271.32" y2="287.29" stroke="#0505ff" stroke-width="0.8" opacity="0.55"/>
<polygon points="318.84,280.94 319.84,280.91 320.85,280.77 321.86,280.67 322.87,280.52 323.87,280.69 324.88,280.52 325.89,280.67 326.89,280.70 327.90,280.58 328.91,280.71 329.92,280.75 330.92,280.74 331.93,280.76 332.94,280.94 333.95,280.96 334.95,281.04 335.96,281.11 336.97,281.15 337.98,281.28 338.98,281.36 339.99,281.49 341.00,281.75 341.00,282.19 339.99,282.46 338.98,282.59 337.98,282.67 336.97,282.80 335.96,282.84 334.95,282.91 333.95,282.99 332.94,283.01 331.93,283.19 330.92,283.21 329.92,283.20 328.91,283.24 327.90,283.37 326.89,283.25 325.89,283.28 324.88,283.43 323.87,283.26 322.87,283.43 321.86,283.28 320.85,283.18 319.84,283.04 318.84,283.01" fill="#0505ff"/>
<line x1="315.82" y1="280.42" x2="324.43" y2="281.27" stroke="#0505ff" stroke-width="0.8" opacity="0.55"/>
<line x1="315.82" y1="283.52" x2="324.43" y2="282.67" stroke="#0505ff" stroke-width="0.8" opacity="0.55"/>
<polygon points="279.50,276.29 278.40,276.14 277.30,276.03 276.20,276.15 275.10,275.98 274.01,275.77 272.91,275.80 271.81,276.09 270.71,276.14 269.61,276.07 268.51,276.23 267.41,276.22 266.31,276.32 265.21,276.21 264.12,276.24 263.02,276.27 261.92,276.50 260.82,276.45 259.72,276.54 258.62,276.71 257.52,276.71 256.42,276.84 255.33,277.14 255.33,277.58 256.42,277.88 257.52,278.01 258.62,278.01 259.72,278.17 260.82,278.26 261.92,278.21 263.02,278.44 264.12,278.48 265.21,278.51 266.31,278.40 267.41,278.49 268.51,278.48 269.61,278.64 270.71,278.58 271.81,278.62 272.91,278.92 274.01,278.95 275.10,278.74 276.20,278.57 277.30,278.69 278.40,278.57 279.50,278.42" fill="#0505ff"/>
<line x1="282.34" y1="275.81" x2="274.22" y2="276.66" stroke="#0505ff" stroke-width="0.8" opacity="0.55"/>
<line x1="282.34" y1="278.91" x2="274.22" y2="278.06" stroke="#0505ff" stroke-width="0.8" opacity="0.55"/>
<polygon points="316.56,271.62 317.45,271.66 318.34,271.54 319.24,271.30 320.13,271.27 321.02,271.44 321.91,271.33 322.80,271.34 323.69,271.44 324.58,271.53 325.47,271.54 326.36,271.46 327.25,271.72 328.14,271.62 329.03,271.70 329.93,271.86 330.82,271.85 331.71,271.86 332.60,271.95 333.49,272.10 334.38,272.08 335.27,272.23 336.16,272.52 336.16,272.96 335.27,273.25 334.38,273.41 333.49,273.38 332.60,273.53 331.71,273.63 330.82,273.63 329.93,273.62 329.03,273.78 328.14,273.86 327.25,273.77 326.36,274.02 325.47,273.94 324.58,273.95 323.69,274.04 322.80,274.14 321.91,274.15 321.02,274.05 320.13,274.21 319.24,274.18 318.34,273.94 317.45,273.83 316.56,273.87" fill="#0505ff"/>
<line x1="313.89" y1="271.19" x2="321.53" y2="272.04" stroke="#0505ff" stroke-width="0.8" opacity="0.55"/>
<line x1="313.89" y1="274.29" x2="321.53" y2="273.44" stroke="#0505ff" stroke-width="0.8" opacity="0.55"/>
<polygon points="281.77,267.20 280.79,267.07 279.81,267.06 278.83,266.75 277.84,266.84 276.86,266.83 275.88,266.72 274.90,266.58 273.91,266.67 272.93,266.90 271.95,266.97 270.97,266.79 269.98,266.94 269.00,266.96 268.02,267.18 267.04,267.23 266.06,267.15 265.07,267.28 264.09,267.41 263.11,267.36 262.13,267.50 261.14,267.62 260.16,267.90 260.16,268.34 261.14,268.63 262.13,268.75 263.11,268.89 264.09,268.84 265.07,268.97 266.06,269.09 267.04,269.01 268.02,269.07 269.00,269.28 269.98,269.30 270.97,269.46 271.95,269.27 272.93,269.35 273.91,269.58 274.90,269.66 275.88,269.53 276.86,269.42 277.84,269.41 278.83,269.50 279.81,269.19 280.79,269.17 281.77,269.05" fill="#0505ff"/>
<line x1="284.28" y1="266.57" x2="277.12" y2="267.42" stroke="#0505ff" stroke-width="0.8" opacity="0.55"/>
<line x1="284.28" y1="269.67" x2="277.12" y2="268.82" stroke="#0505ff" stroke-width="0.8" opacity="0.55"/>
<polygon points="314.29,262.40 315.06,262.51 315.84,262.20 316.61,262.24 317.39,262.20 318.16,262.06 318.94,261.91 319.71,262.19 320.48,262.28 321.26,262.19 322.03,262.33 322.81,262.41 323.58,262.44 324.36,262.52 325.13,262.53 325.90,262.56 326.68,262.62 327.45,262.60 328.23,262.76 329.00,262.80 329.78,262.94 330.55,263.03 331.32,263.29 331.32,263.73 330.55,263.98 329.78,264.08 329.00,264.21 328.23,264.26 327.45,264.42 326.68,264.40 325.90,264.46 325.13,264.48 324.36,264.49 323.58,264.57 322.81,264.60 322.03,264.69 321.26,264.82 320.48,264.73 319.71,264.82 318.94,265.10 318.16,264.95 317.39,264.81 316.61,264.78 315.84,264.82 315.06,264.50 314.29,264.61" fill="#0505ff"/>
<line x1="311.95" y1="261.96" x2="318.63" y2="262.81" stroke="#0505ff" stroke-width="0.8" opacity="0.55"/>
<line x1="311.95" y1="265.06" x2="318.63" y2="264.21" stroke="#0505ff" stroke-width="0.8" opacity="0.55"/>
<line x1="298.60" x2="298.60" y1="209.6" y2="327.2" stroke="#ff0000" stroke-width="1.0"/>
<line x1="216.2" x2="381.0" y1="511.95" y2="511.95" stroke="#777" stroke-width="0.8"/>
<line x1="216.2" x2="381.0" y1="489.00" y2="489.00" stroke="#777" stroke-width="0.8"/>
<line x1="216.2" x2="381.0" y1="466.05" y2="466.05" stroke="#777" stroke-width="0.8"/>
<line x1="216.2" x2="381.0" y1="443.10" y2="443.10" stroke="#777" stroke-width="0.8"/>
<line x1="216.2" x2="381.0" y1="420.15" y2="420.15" stroke="#777" stroke-width="0.8"/>
<line x1="232.68" x2="232.68" y1="417.4" y2="534.9" stroke="#222" stroke-width="0.6"/>
<line x1="265.64" x2="265.64" y1="417.4" y2="534.9" stroke="#222" stroke-width="0.6"/>
<line x1="298.60" x2="298.60" y1="417.4" y2="534.9" stroke="#222" stroke-width="0.6"/>
<line x1="331.56" x2="331.56" y1="417.4" y2="534.9" stroke="#222" stroke-width="0.6"/>
<line x1="364.52" x2="364.52" y1="417.4" y2="534.9" stroke="#222" stroke-width="0.6"/>
<rect x="216.2" y="417.4" width="164.8" height="117.5" fill="none" stroke="#4a4a4a" stroke-width="1"/>
<text x="211.9" y="539.5" font-size="11.7" text-anchor="end">0</text>
<text x="211.9" y="516.5" font-size="11.7" text-anchor="end">50</text>
<text x="211.9" y="493.6" font-size="11.7" text-anchor="end">100</text>
<text x="211.9" y="470.6" font-size="11.7" text-anchor="end">150</text>
<text x="211.9" y="447.7" font-size="11.7" text-anchor="end">200</text>
<text x="211.9" y="424.7" font-size="11.7" text-anchor="end">250</text>
<text transform="translate(185.6,476.1) rotate(-90)" font-size="13.3" text-anchor="middle">Y in px</text>
<text x="231.1" y="548.1" font-size="11.7" text-anchor="middle">-2</text>
<text x="264.0" y="548.1" font-size="11.7" text-anchor="middle">-1</text>
<text x="298.6" y="548.1" font-size="11.7" text-anchor="middle">0</text>
<text x="331.6" y="548.1" font-size="11.7" text-anchor="middle">1</text>
<text x="364.5" y="548.1" font-size="11.7" text-anchor="middle">2</text>
<line x1="300.25" x2="313.43" y1="511.95" y2="511.95" stroke="#9a9aff" stroke-width="0.8"/>
<line x1="300.25" x2="313.43" y1="489.00" y2="489.00" stroke="#9a9aff" stroke-width="0.8"/>
<line x1="300.25" x2="313.43" y1="466.05" y2="466.05" stroke="#9a9aff" stroke-width="0.8"/>
<line x1="300.25" x2="313.43" y1="443.10" y2="443.10" stroke="#9a9aff" stroke-width="0.8"/>
<polygon points="292.05,534.90 291.77,534.67 292.11,534.44 291.67,534.21 291.75,533.98 291.95,533.75 292.02,533.52 291.86,533.29 292.07,533.06 291.87,532.83 292.06,532.61 292.19,532.38 291.69,532.15 290.63,531.92 289.79,531.69 288.93,531.46 289.70,531.23 290.67,531.00 291.70,530.77 292.15,530.54 291.82,530.31 292.26,530.08 292.24,529.85 292.43,529.62 292.16,529.39 292.33,529.16 292.46,528.93 292.42,528.70 292.46,528.47 292.31,528.24 292.15,528.02 291.98,527.79 291.52,527.56 290.82,527.33 289.56,527.10 289.35,526.87 290.16,526.64 290.58,526.41 291.58,526.18 292.43,525.95 292.30,525.72 292.13,525.49 292.27,525.26 292.22,525.03 292.50,524.80 292.57,524.57 292.60,524.34 292.33,524.11 292.30,523.88 292.40,523.65 292.22,523.43 292.33,523.20 291.78,522.97 290.88,522.74 290.42,522.51 289.68,522.28 290.05,522.05 291.08,521.82 291.96,521.59 292.25,521.36 292.41,521.13 292.72,520.90 292.37,520.67 292.49,520.44 292.80,520.21 292.44,519.98 292.45,519.75 292.56,519.52 292.60,519.29 292.35,519.07 292.31,518.84 292.82,518.61 291.91,518.38 291.32,518.15 290.65,517.92 290.32,517.69 290.72,517.46 291.08,517.23 291.98,517.00 292.38,516.77 292.85,516.54 292.71,516.31 293.01,516.08 292.75,515.85 292.95,515.62 292.85,515.39 293.05,515.16 292.56,514.93 292.52,514.70 292.54,514.48 292.87,514.25 292.43,514.02 292.41,513.79 291.69,513.56 291.03,513.33 290.60,513.10 290.97,512.87 291.61,512.64 292.47,512.41 292.58,512.18 292.81,511.95 292.63,511.72 292.77,511.49 292.78,511.26 292.77,511.03 293.06,510.80 292.69,510.57 292.97,510.34 293.09,510.11 292.69,509.89 292.89,509.66 292.89,509.43 292.74,509.20 292.00,508.97 291.10,508.74 290.55,508.51 291.16,508.28 292.06,508.05 292.71,507.82 293.16,507.59 293.04,507.36 292.94,507.13 293.15,506.90 293.18,506.67 293.38,506.44 292.85,506.21 293.13,505.98 292.93,505.75 293.29,505.52 293.22,505.30 292.90,505.07 292.90,504.84 293.04,504.61 291.85,504.38 291.35,504.15 291.19,503.92 291.24,503.69 291.85,503.46 293.06,503.23 293.19,503.00 293.00,502.77 293.19,502.54 293.31,502.31 293.57,502.08 293.47,501.85 293.23,501.62 293.55,501.39 293.25,501.16 293.58,500.94 293.34,500.71 293.43,500.48 293.25,500.25 293.10,500.02 292.07,499.79 291.47,499.56 291.60,499.33 291.46,499.10 292.51,498.87 293.04,498.64 293.44,498.41 293.36,498.18 293.63,497.95 293.57,497.72 293.38,497.49 293.32,497.26 293.50,497.03 293.23,496.80 293.33,496.57 293.70,496.35 293.66,496.12 293.55,495.89 293.67,495.66 293.09,495.43 292.81,495.20 292.18,494.97 291.98,494.74 292.30,494.51 292.41,494.28 293.12,494.05 293.32,493.82 293.83,493.59 293.50,493.36 293.56,493.13 293.75,492.90 293.88,492.67 293.82,492.44 293.43,492.21 293.43,491.98 293.80,491.76 293.53,491.53 294.01,491.30 293.77,491.07 293.59,490.84 292.62,490.61 292.36,490.38 291.92,490.15 292.61,489.92 292.65,489.69 293.32,489.46 293.86,489.23 293.55,489.00 293.98,488.77 293.96,488.54 294.15,488.31 293.61,488.08 293.61,487.85 294.04,487.62 293.62,487.40 293.97,487.17 293.95,486.94 293.66,486.71 293.70,486.48 293.42,486.25 293.04,486.02 292.71,485.79 292.23,485.56 292.81,485.33 293.31,485.10 293.96,484.87 294.06,484.64 293.78,484.41 294.16,484.18 294.27,483.95 293.91,483.72 294.20,483.49 293.98,483.26 293.91,483.03 293.97,482.81 293.88,482.58 294.05,482.35 293.96,482.12 294.22,481.89 294.03,481.66 293.31,481.43 292.96,481.20 292.70,480.97 292.74,480.74 293.11,480.51 293.90,480.28 293.93,480.05 294.46,479.82 294.42,479.59 293.92,479.36 293.96,479.13 294.00,478.90 294.38,478.67 293.97,478.44 294.19,478.22 294.43,477.99 294.48,477.76 294.42,477.53 294.15,477.30 294.32,477.07 293.50,476.84 293.30,476.61 292.84,476.38 293.48,476.15 293.72,475.92 294.00,475.69 294.52,475.46 294.42,475.23 294.49,475.00 294.49,474.77 294.48,474.54 294.18,474.31 294.49,474.08 294.28,473.86 294.72,473.63 294.48,473.40 294.50,473.17 294.47,472.94 294.72,472.71 294.14,472.48 294.10,472.25 293.55,472.02 293.54,471.79 293.49,471.56 294.14,471.33 294.10,471.10 294.68,470.87 294.27,470.64 294.56,470.41 294.30,470.18 294.32,469.95 294.38,469.72 294.41,469.49 294.65,469.27 294.40,469.04 294.77,468.81 294.60,468.58 294.85,468.35 294.46,468.12 294.70,467.89 293.94,467.66 293.56,467.43 293.57,467.20 293.71,466.97 294.19,466.74 294.53,466.51 294.70,466.28 294.99,466.05 294.72,465.82 294.57,465.59 294.76,465.36 294.76,465.13 294.97,464.90 295.00,464.68 294.76,464.45 294.69,464.22 294.64,463.99 294.78,463.76 294.77,463.53 294.35,463.30 294.12,463.07 293.91,462.84 294.12,462.61 294.08,462.38 294.13,462.15 294.51,461.92 295.10,461.69 294.72,461.46 294.65,461.23 294.70,461.00 294.90,460.77 295.08,460.54 294.91,460.32 295.20,460.09 295.14,459.86 294.83,459.63 295.15,459.40 295.19,459.17 294.86,458.94 294.59,458.71 294.52,458.48 294.56,458.25 294.15,458.02 294.17,457.79 294.32,457.56 294.95,457.33 295.04,457.10 294.89,456.87 294.85,456.64 294.97,456.41 295.01,456.18 295.18,455.95 295.36,455.73 295.02,455.50 295.09,455.27 295.32,455.04 295.02,454.81 295.42,454.58 295.34,454.35 295.17,454.12 294.75,453.89 294.53,453.66 294.74,453.43 294.78,453.20 295.09,452.97 294.84,452.74 295.23,452.51 295.49,452.28 295.17,452.05 295.13,451.82 294.96,451.59 295.38,451.36 295.51,451.14 295.30,450.91 295.52,450.68 295.55,450.45 295.00,450.22 295.46,449.99 295.27,449.76 295.00,449.53 295.14,449.30 295.14,449.07 294.65,448.84 295.20,448.61 294.93,448.38 295.10,448.15 295.50,447.92 295.52,447.69 295.46,447.46 295.25,447.23 295.25,447.00 295.35,446.77 295.22,446.55 295.54,446.32 295.13,446.09 295.19,445.86 295.57,445.63 295.28,445.40 295.28,445.17 295.14,444.94 295.41,444.71 295.06,444.48 295.00,444.25 295.18,444.02 295.18,443.79 295.46,443.56 295.45,443.33 295.68,443.10 295.77,442.87 295.73,442.64 295.76,442.41 295.63,442.19 295.83,441.96 295.43,441.73 295.44,441.50 295.83,441.27 295.65,441.04 295.39,440.81 295.84,440.58 295.29,440.35 295.71,440.12 295.64,439.89 295.17,439.66 295.35,439.43 295.43,439.20 295.83,438.97 295.48,438.74 295.76,438.51 295.95,438.28 295.80,438.05 295.75,437.82 295.40,437.60 295.48,437.37 295.98,437.14 295.74,436.91 295.80,436.68 295.69,436.45 295.51,436.22 295.53,435.99 296.01,435.76 295.53,435.53 295.96,435.30 295.66,435.07 295.87,434.84 295.82,434.61 295.91,434.38 295.91,434.15 295.67,433.92 296.03,433.69 296.06,433.46 295.69,433.23 295.74,433.01 295.88,432.78 295.60,432.55 295.61,432.32 296.02,432.09 295.61,431.86 295.93,431.63 296.03,431.40 295.85,431.17 295.73,430.94 295.98,430.71 296.10,430.48 295.80,430.25 296.10,430.02 295.75,429.79 296.14,429.56 295.69,429.33 296.12,429.10 295.81,428.87 296.15,428.65 296.10,428.42 295.94,428.19 296.06,427.96 295.68,427.73 296.21,427.50 296.22,427.27 295.70,427.04 295.85,426.81 296.18,426.58 296.24,426.35 296.08,426.12 296.08,425.89 295.91,425.66 295.95,425.43 296.25,425.20 296.10,424.97 295.80,424.74 296.01,424.51 296.10,424.28 295.93,424.06 295.90,423.83 295.86,423.60 295.99,423.37 296.20,423.14 296.33,422.91 295.93,422.68 296.02,422.45 296.15,422.22 296.04,421.99 296.01,421.76 296.31,421.53 295.96,421.30 296.14,421.07 296.41,420.84 296.35,420.61 295.88,420.38 296.39,420.15 296.13,419.92 296.15,419.69 295.97,419.47 296.22,419.24 296.35,419.01 296.24,418.78 296.41,418.55 296.27,418.32 296.33,418.09 296.49,417.86 296.25,417.63 296.29,417.40 300.86,417.40 301.12,417.63 300.96,417.86 300.95,418.09 300.75,418.32 301.31,418.55 301.18,418.78 301.14,419.01 301.30,419.24 301.05,419.47 301.12,419.69 301.17,419.92 301.09,420.15 301.06,420.38 301.23,420.61 301.09,420.84 301.35,421.07 301.01,421.30 301.17,421.53 301.34,421.76 301.03,421.99 301.07,422.22 300.95,422.45 301.23,422.68 301.06,422.91 301.19,423.14 301.09,423.37 301.23,423.60 301.25,423.83 301.37,424.06 300.98,424.28 301.30,424.51 301.11,424.74 301.30,424.97 301.23,425.20 301.15,425.43 301.18,425.66 301.36,425.89 300.91,426.12 301.02,426.35 301.28,426.58 301.17,426.81 301.39,427.04 301.15,427.27 301.50,427.50 301.37,427.73 301.05,427.96 301.04,428.19 301.15,428.42 301.05,428.65 301.47,428.87 301.15,429.10 301.12,429.33 301.26,429.56 301.34,429.79 301.26,430.02 301.45,430.25 301.51,430.48 301.21,430.71 301.41,430.94 301.48,431.17 301.31,431.40 301.57,431.63 301.35,431.86 301.21,432.09 301.08,432.32 301.12,432.55 301.31,432.78 301.29,433.01 301.56,433.23 301.57,433.46 301.48,433.69 301.41,433.92 301.25,434.15 301.70,434.38 301.67,434.61 301.50,434.84 301.71,435.07 301.53,435.30 301.80,435.53 301.31,435.76 301.28,435.99 301.23,436.22 301.31,436.45 301.61,436.68 301.66,436.91 301.45,437.14 301.58,437.37 301.52,437.60 301.42,437.82 301.66,438.05 301.40,438.28 301.50,438.51 301.38,438.74 301.36,438.97 301.55,439.20 301.95,439.43 301.98,439.66 301.50,439.89 301.54,440.12 301.92,440.35 301.84,440.58 301.86,440.81 301.82,441.04 301.69,441.27 301.78,441.50 301.73,441.73 301.38,441.96 301.45,442.19 301.93,442.41 301.40,442.64 301.93,442.87 301.77,443.10 301.60,443.33 301.91,443.56 302.10,443.79 302.21,444.02 302.35,444.25 302.14,444.48 302.17,444.71 301.72,444.94 301.67,445.17 302.04,445.40 301.62,445.63 301.49,445.86 301.62,446.09 301.88,446.32 301.82,446.55 301.78,446.77 301.68,447.00 302.04,447.23 301.99,447.46 301.57,447.69 301.63,447.92 301.92,448.15 302.08,448.38 302.46,448.61 302.46,448.84 302.52,449.07 302.02,449.30 301.81,449.53 302.01,449.76 301.99,449.99 301.72,450.22 301.97,450.45 302.11,450.68 301.80,450.91 301.98,451.14 302.21,451.36 302.12,451.59 301.95,451.82 301.90,452.05 302.09,452.28 301.88,452.51 302.30,452.74 302.40,452.97 302.31,453.20 302.87,453.43 302.53,453.66 302.19,453.89 302.23,454.12 302.00,454.35 301.99,454.58 301.80,454.81 301.93,455.04 302.34,455.27 302.07,455.50 301.91,455.73 301.83,455.95 302.24,456.18 302.44,456.41 302.01,456.64 301.89,456.87 302.00,457.10 302.47,457.33 302.59,457.56 302.64,457.79 302.83,458.02 303.10,458.25 302.82,458.48 302.40,458.71 302.17,458.94 302.26,459.17 302.42,459.40 302.50,459.63 302.53,459.86 302.08,460.09 302.18,460.32 302.15,460.54 302.55,460.77 302.09,461.00 302.18,461.23 302.12,461.46 302.27,461.69 302.76,461.92 302.57,462.15 303.32,462.38 303.47,462.61 303.27,462.84 303.12,463.07 302.34,463.30 302.35,463.53 302.14,463.76 302.58,463.99 302.17,464.22 302.16,464.45 302.41,464.68 302.41,464.90 302.22,465.13 302.28,465.36 302.64,465.59 302.33,465.82 302.56,466.05 302.49,466.28 302.79,466.51 303.05,466.74 303.21,466.97 303.49,467.20 303.12,467.43 302.77,467.66 302.79,467.89 302.84,468.12 302.43,468.35 302.52,468.58 302.53,468.81 302.41,469.04 302.82,469.27 302.45,469.49 302.42,469.72 302.71,469.95 302.58,470.18 302.39,470.41 302.95,470.64 302.48,470.87 303.17,471.10 303.23,471.33 303.85,471.56 303.63,471.79 303.63,472.02 303.36,472.25 303.19,472.48 302.80,472.71 302.55,472.94 302.99,473.17 302.96,473.40 303.02,473.63 302.61,473.86 302.61,474.08 303.10,474.31 302.76,474.54 302.86,474.77 303.10,475.00 302.71,475.23 303.00,475.46 302.84,475.69 303.51,475.92 303.63,476.15 304.08,476.38 303.72,476.61 303.34,476.84 303.04,477.07 302.77,477.30 302.98,477.53 302.76,477.76 302.86,477.99 303.02,478.22 302.72,478.44 303.14,478.67 302.95,478.90 302.91,479.13 303.05,479.36 302.82,479.59 302.89,479.82 303.31,480.05 303.48,480.28 303.48,480.51 304.25,480.74 304.19,480.97 304.48,481.20 303.66,481.43 303.58,481.66 302.98,481.89 302.92,482.12 303.03,482.35 303.00,482.58 302.90,482.81 303.35,483.03 303.25,483.26 303.11,483.49 303.13,483.72 303.17,483.95 302.93,484.18 303.48,484.41 303.53,484.64 303.52,484.87 303.70,485.10 304.59,485.33 304.39,485.56 304.38,485.79 303.90,486.02 303.72,486.25 303.46,486.48 303.09,486.71 303.29,486.94 303.15,487.17 303.58,487.40 303.30,487.62 303.04,487.85 303.42,488.08 303.50,488.31 303.22,488.54 303.49,488.77 303.44,489.00 303.29,489.23 303.94,489.46 304.06,489.69 304.46,489.92 304.67,490.15 304.94,490.38 303.97,490.61 303.68,490.84 303.75,491.07 303.45,491.30 303.43,491.53 303.68,491.76 303.32,491.98 303.28,492.21 303.42,492.44 303.22,492.67 303.43,492.90 303.47,493.13 303.27,493.36 303.82,493.59 303.51,493.82 304.21,494.05 304.68,494.28 304.94,494.51 304.98,494.74 305.32,494.97 304.44,495.20 304.24,495.43 303.64,495.66 303.46,495.89 303.93,496.12 303.82,496.35 303.52,496.57 303.57,496.80 303.52,497.03 303.85,497.26 303.53,497.49 303.68,497.72 303.45,497.95 304.00,498.18 303.66,498.41 304.22,498.64 304.41,498.87 305.42,499.10 305.41,499.33 305.31,499.56 304.84,499.79 304.16,500.02 303.59,500.25 303.67,500.48 303.90,500.71 303.60,500.94 303.98,501.16 303.73,501.39 303.77,501.62 304.15,501.85 304.07,502.08 303.94,502.31 304.08,502.54 304.06,502.77 304.10,503.00 304.12,503.23 304.80,503.46 305.80,503.69 306.12,503.92 305.32,504.15 304.99,504.38 304.52,504.61 303.79,504.84 304.23,505.07 304.00,505.30 303.89,505.52 303.88,505.75 304.14,505.98 303.85,506.21 303.95,506.44 304.00,506.67 304.12,506.90 304.06,507.13 304.35,507.36 304.04,507.59 304.30,507.82 304.96,508.05 305.67,508.28 306.48,508.51 305.74,508.74 305.50,508.97 304.41,509.20 304.20,509.43 304.10,509.66 304.08,509.89 304.38,510.11 304.15,510.34 304.03,510.57 303.99,510.80 304.36,511.03 304.25,511.26 304.02,511.49 304.33,511.72 304.56,511.95 304.57,512.18 305.03,512.41 305.28,512.64 306.04,512.87 306.75,513.10 306.41,513.33 305.24,513.56 304.78,513.79 304.52,514.02 304.35,514.25 304.29,514.48 304.56,514.70 304.21,514.93 304.60,515.16 304.66,515.39 304.37,515.62 304.36,515.85 304.48,516.08 304.21,516.31 304.75,516.54 304.70,516.77 304.98,517.00 305.50,517.23 306.49,517.46 306.85,517.69 306.77,517.92 305.63,518.15 305.33,518.38 304.64,518.61 304.87,518.84 304.43,519.07 304.40,519.29 304.61,519.52 304.52,519.75 304.77,519.98 304.52,520.21 304.38,520.44 304.57,520.67 304.55,520.90 304.45,521.13 304.85,521.36 305.31,521.59 305.91,521.82 307.06,522.05 306.94,522.28 306.66,522.51 305.88,522.74 305.01,522.97 304.88,523.20 304.95,523.43 304.51,523.65 304.93,523.88 304.91,524.11 305.04,524.34 304.77,524.57 304.58,524.80 304.99,525.03 305.12,525.26 305.09,525.49 305.10,525.72 305.00,525.95 305.61,526.18 306.32,526.41 307.28,526.64 307.53,526.87 306.90,527.10 306.19,527.33 305.72,527.56 305.16,527.79 305.02,528.02 304.85,528.24 304.73,528.47 304.97,528.70 304.90,528.93 305.05,529.16 305.06,529.39 305.00,529.62 304.99,529.85 305.37,530.08 305.13,530.31 305.46,530.54 305.61,530.77 306.48,531.00 307.22,531.23 307.86,531.46 307.61,531.69 306.36,531.92 305.86,532.15 305.04,532.38 305.11,532.61 305.29,532.83 305.42,533.06 305.52,533.29 305.24,533.52 305.45,533.75 305.22,533.98 305.03,534.21 305.26,534.44 305.32,534.67 305.01,534.90" fill="#0606ff"/>
<rect x="287.2" y="509.1" width="0.9" height="0.9" fill="#4a4aff" opacity="0.85"/>
<rect x="292.9" y="424.6" width="0.9" height="0.9" fill="#4a4aff" opacity="0.41"/>
<rect x="290.1" y="445.8" width="0.9" height="0.9" fill="#4a4aff" opacity="0.58"/>
<rect x="291.8" y="470.4" width="0.9" height="0.9" fill="#4a4aff" opacity="0.53"/>
<rect x="308.0" y="461.6" width="0.9" height="0.9" fill="#4a4aff" opacity="0.58"/>
<rect x="288.6" y="501.1" width="0.9" height="0.9" fill="#4a4aff" opacity="0.74"/>
<rect x="288.4" y="481.0" width="0.9" height="0.9" fill="#4a4aff" opacity="0.48"/>
<rect x="306.7" y="491.7" width="0.9" height="0.9" fill="#4a4aff" opacity="0.69"/>
<rect x="308.8" y="479.6" width="0.9" height="0.9" fill="#4a4aff" opacity="0.53"/>
<rect x="305.4" y="459.8" width="0.9" height="0.9" fill="#4a4aff" opacity="0.56"/>
<rect x="307.2" y="461.8" width="0.9" height="0.9" fill="#4a4aff" opacity="0.43"/>
<rect x="289.5" y="500.1" width="0.9" height="0.9" fill="#4a4aff" opacity="0.76"/>
<rect x="291.0" y="431.0" width="0.9" height="0.9" fill="#4a4aff" opacity="0.62"/>
<rect x="288.7" y="495.3" width="0.9" height="0.9" fill="#4a4aff" opacity="0.45"/>
<rect x="288.6" y="526.6" width="0.9" height="0.9" fill="#4a4aff" opacity="0.64"/>
<rect x="303.5" y="436.9" width="0.9" height="0.9" fill="#4a4aff" opacity="0.52"/>
<rect x="286.0" y="517.4" width="0.9" height="0.9" fill="#4a4aff" opacity="0.65"/>
<rect x="288.7" y="456.0" width="0.9" height="0.9" fill="#4a4aff" opacity="0.68"/>
<rect x="306.3" y="432.3" width="0.9" height="0.9" fill="#4a4aff" opacity="0.45"/>
<rect x="306.2" y="455.4" width="0.9" height="0.9" fill="#4a4aff" opacity="0.69"/>
<rect x="307.5" y="521.5" width="0.9" height="0.9" fill="#4a4aff" opacity="0.47"/>
<rect x="288.0" y="518.9" width="0.9" height="0.9" fill="#4a4aff" opacity="0.59"/>
<rect x="291.4" y="431.0" width="0.9" height="0.9" fill="#4a4aff" opacity="0.60"/>
<rect x="288.4" y="473.0" width="0.9" height="0.9" fill="#4a4aff" opacity="0.43"/>
<rect x="309.2" y="498.1" width="0.9" height="0.9" fill="#4a4aff" opacity="0.68"/>
<rect x="304.5" y="438.4" width="0.9" height="0.9" fill="#4a4aff" opacity="0.85"/>
<line x1="298.60" x2="298.60" y1="417.4" y2="534.9" stroke="#e8103a" stroke-width="0.7"/>
<polyline points="249.70,352.90 246.50,359.20 249.70,365.50" fill="none" stroke="#111" stroke-width="0.8"/>
<text x="249.1" y="363.3" font-size="13.3">U′·V′</text>
<polyline points="278.40,352.90 281.60,359.20 278.40,365.50" fill="none" stroke="#111" stroke-width="0.8"/>
<text x="282.5" y="368.0" font-size="10.3">gradient</text>
<text x="319.2" y="363.3" font-size="13.3" word-spacing="1.6">in px<tspan dy="-5.5" font-size="9.5">2</tspan></text>
<polyline points="248.40,556.10 245.20,562.40 248.40,568.70" fill="none" stroke="#111" stroke-width="0.8"/>
<text x="247.1" y="566.5" font-size="13.3">U′·V′</text>
<polyline points="277.10,556.10 280.30,562.40 277.10,568.70" fill="none" stroke="#111" stroke-width="0.8"/>
<text x="281.2" y="573.1" font-size="10.1">corrected</text>
<text x="321.3" y="566.5" font-size="13.3" word-spacing="0">in px<tspan dy="-5.5" font-size="9.5">2</tspan></text>
<text x="172.6" y="178.8" font-size="15.2" font-weight="bold">(a)</text>
<text x="172.9" y="393.9" font-size="15.4" font-weight="bold">(b)</text>
<text x="174.0" y="594.8" font-size="15.4" font-weight="bold">(c)</text>
</svg>
</body></html>
